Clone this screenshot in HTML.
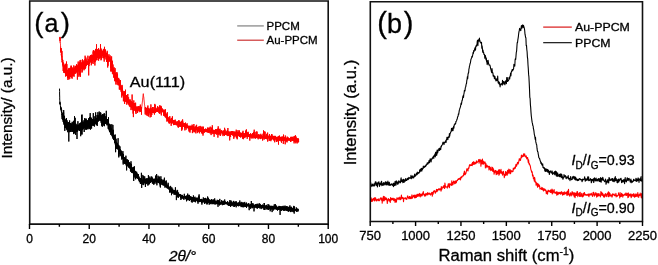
<!DOCTYPE html>
<html><head><meta charset="utf-8"><style>
html,body{margin:0;padding:0;background:#fff;overflow:hidden;}
svg{display:block;filter:blur(0.35px);}
text{font-family:"Liberation Sans",sans-serif;fill:#000;stroke:#000;stroke-width:0.3px;}
</style></head><body>
<svg width="658" height="265" viewBox="0 0 658 265">
<rect width="658" height="265" fill="#fff"/>
<polyline points="59.7,37.2 59.8,38.7 59.8,38.8 59.9,38.2 59.9,39.0 60.0,41.1 60.1,36.9 60.1,42.1 60.2,42.6 60.2,42.3 60.3,42.6 60.4,43.1 60.4,43.6 60.5,44.7 60.5,45.4 60.6,46.1 60.7,51.4 60.7,48.2 60.8,48.2 60.8,52.6 60.9,48.2 61.0,48.5 61.0,50.7 61.1,48.2 61.1,48.5 61.2,52.2 61.3,52.6 61.3,55.4 61.4,54.0 61.4,54.2 61.5,54.7 61.6,54.2 61.6,50.6 61.7,54.8 61.7,57.3 61.8,55.8 61.9,57.1 61.9,51.0 62.0,60.1 62.0,57.2 62.1,58.4 62.2,62.0 62.2,60.3 62.3,62.5 62.3,61.6 62.4,62.5 62.5,59.0 62.5,62.3 62.6,62.5 62.6,65.1 62.7,62.6 62.8,63.8 62.8,59.9 62.9,63.5 62.9,63.4 63.0,62.2 63.1,66.4 63.1,64.3 63.2,71.0 63.2,65.6 63.3,65.9 63.4,66.3 63.4,66.7 63.5,63.7 63.5,66.0 63.6,65.0 63.7,66.2 63.7,63.4 63.8,72.7 63.8,65.4 63.9,68.2 64.0,66.4 64.0,70.6 64.1,68.7 64.1,65.1 64.2,70.7 64.3,73.0 64.3,72.0 64.4,68.9 64.4,66.0 64.5,66.8 64.6,73.1 64.6,69.3 64.7,67.0 64.7,72.5 64.8,70.1 64.9,69.8 64.9,69.0 65.0,69.3 65.0,68.2 65.1,64.3 65.2,73.0 65.2,69.9 65.3,70.3 65.3,69.2 65.4,71.8 65.5,63.8 65.5,69.8 65.6,64.4 65.6,67.5 65.7,76.6 65.8,71.5 65.8,70.4 65.9,70.9 65.9,73.9 66.0,70.2 66.1,71.5 66.1,72.1 66.2,70.4 66.2,71.3 66.3,73.0 66.4,75.1 66.4,68.8 66.5,75.9 66.5,61.5 66.6,73.2 66.7,73.8 66.7,68.9 66.8,71.4 66.8,74.1 66.9,64.1 67.0,72.6 67.0,74.0 67.1,72.1 67.1,73.5 67.2,70.4 67.3,70.2 67.3,71.6 67.4,70.1 67.4,71.6 67.5,77.4 67.6,72.8 67.6,71.7 67.7,71.2 67.7,77.8 67.8,72.4 67.9,79.9 67.9,72.8 68.0,72.8 68.0,76.3 68.1,74.3 68.2,73.2 68.2,72.5 68.3,76.0 68.3,72.4 68.4,77.1 68.5,68.5 68.5,72.6 68.6,73.0 68.6,78.2 68.7,71.4 68.8,75.1 68.8,74.0 68.9,74.3 68.9,73.7 69.0,79.4 69.1,72.1 69.1,72.5 69.2,71.0 69.2,67.9 69.3,71.1 69.4,77.0 69.4,75.6 69.5,69.6 69.5,73.5 69.6,72.9 69.7,73.5 69.7,73.9 69.8,71.9 69.8,78.8 69.9,72.8 70.0,73.7 70.0,73.7 70.1,70.7 70.1,68.3 70.2,72.6 70.3,74.7 70.3,75.3 70.4,74.4 70.4,69.6 70.5,77.0 70.6,75.1 70.6,76.2 70.7,73.1 70.7,77.0 70.8,67.6 70.9,66.7 70.9,65.7 71.0,71.5 71.0,71.4 71.1,70.8 71.2,73.3 71.2,67.2 71.3,73.5 71.3,70.5 71.4,74.0 71.5,65.8 71.5,71.9 71.6,77.7 71.6,73.2 71.7,75.2 71.8,73.9 71.8,73.6 71.9,70.8 71.9,73.4 72.0,67.3 72.1,75.1 72.1,78.7 72.2,75.8 72.2,67.8 72.3,72.1 72.4,71.9 72.4,69.6 72.5,73.6 72.5,74.9 72.6,71.8 72.7,75.8 72.7,74.9 72.8,69.7 72.8,74.5 72.9,76.0 73.0,70.6 73.0,73.0 73.1,73.4 73.1,73.2 73.2,68.8 73.3,73.4 73.3,73.2 73.4,74.8 73.4,74.5 73.5,71.4 73.6,73.6 73.6,75.2 73.7,75.7 73.7,69.6 73.8,65.4 73.9,72.8 73.9,70.0 74.0,72.2 74.0,76.8 74.1,71.1 74.2,70.2 74.2,71.4 74.3,72.4 74.3,67.9 74.4,70.8 74.5,68.4 74.5,72.2 74.6,73.7 74.6,70.5 74.7,70.4 74.8,71.2 74.8,69.1 74.9,69.3 74.9,69.9 75.0,70.6 75.1,66.6 75.1,72.2 75.2,70.9 75.2,69.3 75.3,66.2 75.4,72.0 75.4,67.2 75.5,67.2 75.5,67.1 75.6,65.9 75.7,73.8 75.7,68.5 75.8,68.7 75.8,72.2 75.9,70.3 76.0,67.4 76.0,69.2 76.1,72.8 76.1,68.8 76.2,70.6 76.3,65.6 76.3,70.6 76.4,71.0 76.4,71.5 76.5,70.0 76.6,68.3 76.6,64.2 76.7,68.9 76.7,70.4 76.8,66.5 76.9,67.2 76.9,68.7 77.0,70.1 77.0,72.0 77.1,65.3 77.2,66.1 77.2,70.4 77.3,69.0 77.3,69.5 77.4,79.6 77.5,72.9 77.5,70.7 77.6,69.8 77.6,67.4 77.7,68.7 77.8,65.6 77.8,69.5 77.9,69.4 77.9,69.1 78.0,67.5 78.1,67.0 78.1,67.2 78.2,61.5 78.2,70.2 78.3,67.7 78.4,66.9 78.4,67.7 78.5,68.7 78.5,66.8 78.6,69.8 78.7,71.4 78.7,66.7 78.8,64.3 78.8,68.8 78.9,76.8 79.0,64.3 79.0,68.3 79.1,69.4 79.1,71.2 79.2,63.8 79.3,63.1 79.3,75.3 79.4,63.6 79.4,64.5 79.5,67.1 79.6,66.5 79.6,68.3 79.7,64.5 79.7,70.6 79.8,64.7 79.9,68.3 79.9,62.0 80.0,66.4 80.0,60.3 80.1,65.4 80.2,65.3 80.2,67.7 80.3,66.1 80.3,61.4 80.4,76.8 80.5,69.6 80.5,70.2 80.6,64.6 80.6,65.6 80.7,64.3 80.8,62.9 80.8,59.9 80.9,66.0 80.9,62.8 81.0,63.6 81.1,68.8 81.1,65.8 81.2,63.6 81.2,66.7 81.3,64.3 81.4,65.9 81.4,64.4 81.5,65.7 81.5,66.3 81.6,65.8 81.7,65.0 81.7,67.5 81.8,68.6 81.8,63.1 81.9,62.5 82.0,62.0 82.0,72.6 82.1,70.2 82.1,63.6 82.2,71.6 82.3,63.2 82.3,65.2 82.4,65.2 82.4,69.1 82.5,59.4 82.6,64.0 82.6,65.5 82.7,60.4 82.7,63.3 82.8,64.8 82.9,68.1 82.9,66.5 83.0,67.3 83.0,66.5 83.1,66.0 83.2,67.5 83.2,65.7 83.3,66.1 83.3,63.5 83.4,62.1 83.5,66.2 83.5,62.0 83.6,68.6 83.6,64.9 83.7,63.5 83.8,69.1 83.8,61.7 83.9,64.4 83.9,60.4 84.0,70.3 84.1,64.6 84.1,66.3 84.2,62.8 84.2,66.2 84.3,65.2 84.4,64.8 84.4,69.2 84.5,63.6 84.5,63.5 84.6,65.0 84.7,66.3 84.7,62.9 84.8,64.7 84.8,61.8 84.9,63.9 85.0,65.4 85.0,59.0 85.1,64.9 85.1,55.7 85.2,69.1 85.3,63.3 85.3,63.0 85.4,64.7 85.4,63.4 85.5,64.7 85.6,59.2 85.6,63.5 85.7,63.5 85.7,67.7 85.8,57.4 85.9,62.8 85.9,63.7 86.0,63.2 86.0,58.6 86.1,63.4 86.2,61.0 86.2,60.7 86.3,66.0 86.3,60.7 86.4,62.5 86.5,64.2 86.5,63.8 86.6,62.9 86.6,64.7 86.7,62.4 86.8,63.1 86.8,64.7 86.9,63.4 86.9,63.1 87.0,61.8 87.1,62.6 87.1,61.7 87.2,63.7 87.2,61.5 87.3,62.0 87.4,63.7 87.4,62.1 87.5,61.1 87.5,64.4 87.6,61.3 87.7,64.5 87.7,63.7 87.8,61.5 87.8,63.0 87.9,55.7 88.0,61.1 88.0,64.5 88.1,62.0 88.1,61.8 88.2,62.4 88.3,62.5 88.3,61.8 88.4,61.0 88.4,59.1 88.5,60.1 88.6,60.1 88.6,60.9 88.7,75.4 88.7,60.4 88.8,60.9 88.9,60.4 88.9,61.4 89.0,66.1 89.0,64.4 89.1,60.3 89.2,59.4 89.2,64.1 89.3,60.8 89.3,61.8 89.4,56.4 89.5,63.7 89.5,59.6 89.6,60.6 89.6,58.4 89.7,60.1 89.8,62.9 89.8,62.8 89.9,60.3 89.9,62.1 90.0,60.1 90.1,59.6 90.1,60.4 90.2,58.1 90.2,59.1 90.3,61.3 90.4,61.8 90.4,55.1 90.5,61.4 90.5,62.2 90.6,59.6 90.7,55.2 90.7,60.8 90.8,58.2 90.8,60.5 90.9,59.1 91.0,60.4 91.0,58.1 91.1,59.5 91.1,59.7 91.2,60.2 91.3,57.4 91.3,65.3 91.4,58.1 91.4,58.2 91.5,57.8 91.6,54.7 91.6,58.8 91.7,60.9 91.7,60.4 91.8,57.0 91.9,56.1 91.9,58.0 92.0,60.7 92.0,58.9 92.1,63.1 92.2,59.7 92.2,59.4 92.3,60.5 92.3,60.3 92.4,57.8 92.5,57.1 92.5,58.3 92.6,58.5 92.6,55.6 92.7,58.1 92.8,59.1 92.8,55.4 92.9,55.4 92.9,55.8 93.0,56.9 93.1,64.0 93.1,51.4 93.2,55.8 93.2,55.5 93.3,57.8 93.4,50.0 93.4,57.7 93.5,55.3 93.5,56.4 93.6,59.7 93.7,55.4 93.7,58.2 93.8,57.1 93.8,57.1 93.9,59.8 94.0,54.9 94.0,61.7 94.1,60.9 94.1,58.2 94.2,52.0 94.3,58.1 94.3,57.7 94.4,58.9 94.4,55.2 94.5,62.4 94.6,60.3 94.6,53.6 94.7,55.9 94.7,50.7 94.8,59.3 94.9,60.8 94.9,65.5 95.0,57.3 95.0,57.6 95.1,57.6 95.2,56.9 95.2,61.8 95.3,57.0 95.3,55.5 95.4,56.4 95.5,48.9 95.5,57.6 95.6,57.4 95.6,55.8 95.7,58.9 95.8,57.8 95.8,55.2 95.9,51.8 95.9,53.0 96.0,53.7 96.1,54.8 96.1,55.7 96.2,60.3 96.2,54.5 96.3,59.4 96.4,56.8 96.4,58.5 96.5,55.2 96.5,44.3 96.6,57.6 96.7,54.0 96.7,52.7 96.8,57.6 96.8,56.6 96.9,53.5 97.0,54.0 97.0,60.2 97.1,54.0 97.1,56.5 97.2,52.3 97.3,57.5 97.3,52.0 97.4,55.3 97.4,49.2 97.5,55.4 97.6,57.8 97.6,51.1 97.7,53.8 97.7,56.8 97.8,55.6 97.9,54.0 97.9,55.7 98.0,54.8 98.0,57.9 98.1,53.8 98.2,56.6 98.2,55.6 98.3,56.4 98.3,54.3 98.4,56.2 98.5,56.0 98.5,54.3 98.6,48.2 98.6,60.7 98.7,56.0 98.8,52.7 98.8,56.1 98.9,53.4 98.9,54.6 99.0,57.6 99.1,54.4 99.1,53.4 99.2,53.5 99.2,50.4 99.3,52.7 99.4,53.2 99.4,52.1 99.5,49.8 99.5,54.4 99.6,52.6 99.7,55.9 99.7,58.7 99.8,53.1 99.8,54.8 99.9,54.4 100.0,50.1 100.0,51.2 100.1,57.7 100.1,54.2 100.2,56.5 100.3,49.8 100.3,54.8 100.4,57.2 100.4,57.3 100.5,44.2 100.6,54.3 100.6,53.5 100.7,55.9 100.7,49.9 100.8,52.8 100.9,56.4 100.9,54.0 101.0,53.9 101.0,60.3 101.1,53.1 101.2,48.6 101.2,53.6 101.3,51.5 101.3,50.1 101.4,54.4 101.5,59.4 101.5,54.5 101.6,54.8 101.6,53.1 101.7,54.4 101.8,55.6 101.8,54.5 101.9,56.1 101.9,54.3 102.0,52.0 102.1,54.4 102.1,54.0 102.2,51.6 102.2,54.6 102.3,56.2 102.4,51.1 102.4,54.2 102.5,55.4 102.5,53.5 102.6,52.7 102.7,53.4 102.7,54.2 102.8,55.0 102.8,54.3 102.9,50.7 103.0,56.2 103.0,58.1 103.1,50.6 103.1,52.6 103.2,51.8 103.3,56.7 103.3,57.8 103.4,48.9 103.4,53.3 103.5,52.1 103.6,54.1 103.6,58.2 103.7,50.0 103.7,51.9 103.8,54.2 103.9,54.4 103.9,55.8 104.0,54.1 104.0,51.7 104.1,53.7 104.2,61.6 104.2,56.0 104.3,51.4 104.3,56.6 104.4,53.5 104.5,56.4 104.5,46.8 104.6,57.5 104.6,52.3 104.7,54.5 104.8,55.6 104.8,54.8 104.9,52.5 104.9,52.1 105.0,53.7 105.1,50.1 105.1,53.2 105.2,52.1 105.2,54.9 105.3,54.4 105.4,55.5 105.4,53.9 105.5,49.5 105.5,54.3 105.6,56.8 105.7,53.9 105.7,54.9 105.8,56.9 105.8,55.0 105.9,58.6 106.0,59.3 106.0,54.5 106.1,56.9 106.1,54.2 106.2,53.0 106.3,55.4 106.3,56.2 106.4,60.0 106.4,53.2 106.5,57.0 106.6,55.8 106.6,53.2 106.7,62.0 106.7,57.1 106.8,53.3 106.9,59.6 106.9,52.9 107.0,52.7 107.0,55.4 107.1,60.6 107.2,50.8 107.2,60.2 107.3,57.0 107.3,52.4 107.4,56.9 107.5,56.5 107.5,57.0 107.6,58.1 107.6,57.8 107.7,67.5 107.8,54.6 107.8,59.1 107.9,56.7 107.9,58.9 108.0,60.4 108.1,65.7 108.1,56.1 108.2,57.3 108.2,61.9 108.3,62.1 108.4,57.1 108.4,62.1 108.5,57.4 108.5,57.3 108.6,59.5 108.7,58.0 108.7,57.9 108.8,57.7 108.8,58.0 108.9,55.8 109.0,54.3 109.0,60.0 109.1,58.9 109.1,59.6 109.2,60.7 109.3,57.4 109.3,57.5 109.4,58.0 109.4,58.2 109.5,60.8 109.6,58.9 109.6,58.7 109.7,60.3 109.7,57.9 109.8,56.9 109.9,61.1 109.9,61.7 110.0,59.4 110.0,61.2 110.1,55.4 110.2,60.4 110.2,61.4 110.3,59.9 110.3,60.7 110.4,62.0 110.5,62.1 110.5,59.6 110.6,63.1 110.6,58.7 110.7,68.0 110.8,60.9 110.8,61.5 110.9,61.3 110.9,71.2 111.0,62.4 111.1,64.2 111.1,71.7 111.2,68.6 111.2,59.5 111.3,64.6 111.4,65.2 111.4,66.0 111.5,64.4 111.5,64.6 111.6,56.4 111.7,60.7 111.7,66.3 111.8,62.7 111.8,64.8 111.9,66.0 112.0,63.2 112.0,61.9 112.1,71.1 112.1,67.4 112.2,66.2 112.3,69.2 112.3,60.7 112.4,67.2 112.4,73.7 112.5,72.0 112.6,69.8 112.6,66.2 112.7,68.8 112.7,64.4 112.8,68.5 112.9,64.6 112.9,67.9 113.0,71.3 113.0,67.9 113.1,68.9 113.2,74.5 113.2,70.8 113.3,71.0 113.3,68.6 113.4,73.8 113.5,73.1 113.5,72.7 113.6,73.2 113.6,69.8 113.7,71.8 113.8,73.5 113.8,77.8 113.9,75.4 113.9,74.3 114.0,73.9 114.1,67.3 114.1,77.0 114.2,70.4 114.2,71.8 114.3,75.4 114.4,76.5 114.4,76.4 114.5,74.7 114.5,73.0 114.6,70.1 114.7,77.5 114.7,81.2 114.8,74.1 114.8,78.0 114.9,75.2 115.0,74.9 115.0,75.9 115.1,68.2 115.1,75.8 115.2,74.4 115.3,77.3 115.3,76.4 115.4,78.9 115.4,79.5 115.5,75.8 115.6,75.6 115.6,80.7 115.7,76.9 115.7,73.9 115.8,72.6 115.9,84.5 115.9,77.6 116.0,73.2 116.0,77.5 116.1,77.5 116.2,77.3 116.2,82.0 116.3,82.0 116.3,75.3 116.4,75.7 116.5,77.6 116.5,80.1 116.6,78.7 116.6,79.4 116.7,78.7 116.8,76.8 116.8,80.4 116.9,72.0 116.9,79.6 117.0,77.1 117.1,78.8 117.1,84.5 117.2,79.2 117.2,75.2 117.3,79.0 117.4,80.1 117.4,75.5 117.5,78.3 117.5,73.6 117.6,79.9 117.7,79.4 117.7,80.0 117.8,79.1 117.8,80.9 117.9,78.4 118.0,83.5 118.0,85.2 118.1,80.6 118.1,80.6 118.2,83.2 118.3,80.0 118.3,82.9 118.4,80.3 118.4,82.5 118.5,80.8 118.6,82.1 118.6,85.3 118.7,77.9 118.7,83.8 118.8,82.4 118.9,81.9 118.9,81.9 119.0,79.1 119.0,81.6 119.1,83.5 119.2,80.2 119.2,84.0 119.3,88.1 119.3,89.5 119.4,86.5 119.5,85.6 119.5,82.2 119.6,89.3 119.6,82.8 119.7,87.0 119.8,87.3 119.8,85.4 119.9,85.1 119.9,83.6 120.0,85.5 120.1,84.6 120.1,83.3 120.2,83.5 120.2,87.7 120.3,89.6 120.4,84.2 120.4,80.1 120.5,85.6 120.5,84.6 120.6,85.4 120.7,87.6 120.7,87.1 120.8,87.3 120.8,86.2 120.9,88.7 121.0,87.1 121.0,87.9 121.1,88.3 121.1,91.6 121.2,87.5 121.3,90.0 121.3,88.3 121.4,92.1 121.4,89.0 121.5,89.6 121.6,92.3 121.6,90.7 121.7,87.2 121.7,88.0 121.8,97.5 121.9,85.6 121.9,89.9 122.0,95.3 122.0,84.9 122.1,89.2 122.2,89.9 122.2,88.4 122.3,91.6 122.3,92.2 122.4,91.2 122.5,89.4 122.5,94.0 122.6,94.1 122.6,92.8 122.7,90.4 122.8,93.0 122.8,93.5 122.9,92.8 122.9,95.5 123.0,92.9 123.1,93.5 123.1,91.0 123.2,94.0 123.2,95.2 123.3,95.0 123.4,92.9 123.4,101.3 123.5,95.3 123.5,94.1 123.6,94.2 123.7,96.0 123.7,92.9 123.8,95.4 123.8,95.9 123.9,95.1 124.0,97.5 124.0,95.1 124.1,95.2 124.1,94.4 124.2,98.6 124.3,94.8 124.3,96.5 124.4,95.4 124.4,99.4 124.5,99.8 124.6,91.2 124.6,103.9 124.7,96.6 124.7,93.0 124.8,96.4 124.9,92.5 124.9,96.7 125.0,94.9 125.0,96.2 125.1,96.0 125.2,97.3 125.2,98.7 125.3,100.6 125.3,96.4 125.4,97.5 125.5,89.7 125.5,96.9 125.6,101.8 125.6,95.1 125.7,99.9 125.8,98.3 125.8,96.9 125.9,99.2 125.9,97.0 126.0,100.7 126.1,95.0 126.1,95.7 126.2,99.4 126.2,98.1 126.3,96.3 126.4,98.5 126.4,97.6 126.5,98.8 126.5,99.8 126.6,100.9 126.7,95.2 126.7,99.2 126.8,104.7 126.8,98.9 126.9,100.4 127.0,96.4 127.0,101.6 127.1,99.6 127.1,101.9 127.2,100.9 127.3,101.8 127.3,96.0 127.4,100.6 127.4,98.2 127.5,98.7 127.6,99.1 127.6,100.3 127.7,100.5 127.7,103.4 127.8,94.0 127.9,98.6 127.9,99.7 128.0,102.0 128.0,100.6 128.1,100.5 128.2,101.8 128.2,101.2 128.3,99.8 128.3,97.9 128.4,100.7 128.5,103.3 128.5,101.3 128.6,97.3 128.6,100.9 128.7,100.7 128.8,101.5 128.8,101.6 128.9,105.2 128.9,100.8 129.0,101.2 129.1,102.0 129.1,104.1 129.2,102.6 129.2,101.7 129.3,103.5 129.4,101.9 129.4,106.3 129.5,101.1 129.5,99.9 129.6,104.0 129.7,101.4 129.7,104.3 129.8,102.8 129.8,102.5 129.9,99.7 130.0,104.0 130.0,99.4 130.1,107.1 130.1,105.1 130.2,102.1 130.3,100.8 130.3,105.4 130.4,103.1 130.4,100.9 130.5,103.3 130.6,102.2 130.6,103.1 130.7,104.0 130.7,106.4 130.8,105.1 130.9,101.8 130.9,103.7 131.0,103.8 131.0,110.1 131.1,101.1 131.2,104.1 131.2,106.9 131.3,103.8 131.3,103.2 131.4,104.5 131.5,103.7 131.5,107.5 131.6,101.7 131.6,103.2 131.7,101.8 131.8,105.6 131.8,103.9 131.9,107.4 131.9,107.4 132.0,108.3 132.1,104.0 132.1,94.5 132.2,104.8 132.2,109.4 132.3,106.5 132.4,102.0 132.4,106.3 132.5,108.4 132.5,109.9 132.6,106.5 132.7,107.7 132.7,107.6 132.8,105.3 132.8,103.3 132.9,106.9 133.0,103.9 133.0,105.6 133.1,113.6 133.1,106.4 133.2,106.3 133.3,109.8 133.3,105.4 133.4,117.1 133.4,109.2 133.5,106.0 133.6,105.9 133.6,104.4 133.7,109.4 133.7,105.1 133.8,100.4 133.9,109.2 133.9,107.2 134.0,107.5 134.0,107.9 134.1,103.1 134.2,104.4 134.2,107.1 134.3,103.5 134.3,107.2 134.4,108.2 134.5,107.8 134.5,107.7 134.6,103.6 134.6,106.2 134.7,109.8 134.8,105.2 134.8,107.6 134.9,103.9 134.9,110.8 135.0,105.9 135.1,107.3 135.1,107.8 135.2,108.5 135.2,110.9 135.3,108.7 135.4,107.2 135.4,104.9 135.5,108.7 135.5,112.3 135.6,102.7 135.7,109.2 135.7,106.4 135.8,107.9 135.8,108.1 135.9,108.5 136.0,114.0 136.0,108.9 136.1,107.8 136.1,109.1 136.2,108.1 136.3,108.0 136.3,107.8 136.4,108.3 136.4,107.5 136.5,107.3 136.6,106.6 136.6,108.3 136.7,107.7 136.7,110.2 136.8,110.4 136.9,108.0 136.9,109.0 137.0,111.1 137.0,108.2 137.1,108.9 137.2,108.5 137.2,109.3 137.3,112.6 137.3,106.9 137.4,112.9 137.5,109.5 137.5,110.2 137.6,109.4 137.6,111.0 137.7,108.3 137.8,109.8 137.8,108.1 137.9,109.1 137.9,109.7 138.0,107.7 138.1,106.0 138.1,110.4 138.2,110.6 138.2,109.8 138.3,108.5 138.4,109.8 138.4,106.6 138.5,109.8 138.5,109.5 138.6,109.7 138.7,109.1 138.7,108.1 138.8,110.2 138.8,109.2 138.9,110.4 139.0,108.9 139.0,106.8 139.1,109.5 139.1,109.8 139.2,112.2 139.3,111.7 139.3,106.2 139.4,110.6 139.4,108.5 139.5,110.2 139.6,109.1 139.6,108.8 139.7,109.5 139.7,109.6 139.8,110.2 139.9,110.0 139.9,110.1 140.0,109.1 140.0,110.1 140.1,109.0 140.2,109.9 140.2,109.4 140.3,109.7 140.3,104.6 140.4,109.5 140.5,108.3 140.5,109.1 140.6,106.7 140.6,110.1 140.7,111.8 140.8,109.0 140.8,107.2 140.9,109.9 140.9,107.5 141.0,111.7 141.1,107.4 141.1,109.0 141.2,109.5 141.2,107.4 141.3,108.8 141.4,108.6 141.4,110.3 141.5,114.7 141.5,109.0 141.6,108.6 141.7,107.7 141.7,107.5 141.8,107.0 141.8,106.5 141.9,105.9 142.0,105.4 142.0,104.9 142.1,104.3 142.1,103.8 142.2,103.3 142.3,102.7 142.3,102.2 142.4,101.7 142.4,101.1 142.5,100.6 142.6,100.1 142.6,99.5 142.7,99.0 142.7,98.5 142.8,97.9 142.9,97.4 142.9,96.9 143.0,96.3 143.0,95.8 143.1,95.3 143.2,94.7 143.2,94.2 143.3,93.7 143.3,93.9 143.4,94.4 143.5,94.9 143.5,95.5 143.6,96.0 143.6,96.5 143.7,97.1 143.8,97.6 143.8,98.1 143.9,98.7 143.9,99.2 144.0,99.7 144.1,100.3 144.1,100.8 144.2,101.3 144.2,101.9 144.3,102.4 144.4,102.9 144.4,103.5 144.5,104.0 144.5,104.5 144.6,105.1 144.7,105.6 144.7,106.1 144.8,106.7 144.8,107.2 144.9,107.7 145.0,108.3 145.0,108.8 145.1,109.3 145.1,110.1 145.2,114.4 145.3,108.3 145.3,109.5 145.4,107.1 145.4,109.2 145.5,112.8 145.6,107.1 145.6,110.6 145.7,111.5 145.7,109.6 145.8,110.9 145.9,109.5 145.9,109.2 146.0,109.7 146.0,108.4 146.1,109.1 146.2,109.1 146.2,115.1 146.3,109.3 146.3,108.8 146.4,112.9 146.5,108.1 146.5,113.7 146.6,111.7 146.6,110.5 146.7,109.8 146.8,108.8 146.8,107.9 146.9,107.9 146.9,109.7 147.0,109.9 147.1,112.9 147.1,110.4 147.2,115.9 147.2,111.2 147.3,108.7 147.4,110.6 147.4,108.9 147.5,106.9 147.5,113.6 147.6,110.0 147.7,109.2 147.7,108.4 147.8,111.2 147.8,110.6 147.9,105.5 148.0,111.6 148.0,109.9 148.1,112.0 148.1,110.8 148.2,111.0 148.3,110.8 148.3,111.6 148.4,116.5 148.4,112.3 148.5,108.3 148.6,111.1 148.6,110.1 148.7,109.0 148.7,109.9 148.8,110.2 148.9,114.7 148.9,112.2 149.0,113.0 149.0,112.0 149.1,110.7 149.2,111.0 149.2,111.2 149.3,110.7 149.3,111.2 149.4,112.5 149.5,108.8 149.5,110.6 149.6,111.4 149.6,112.1 149.7,112.0 149.8,112.3 149.8,109.3 149.9,110.1 149.9,110.8 150.0,110.7 150.1,112.5 150.1,117.4 150.2,112.1 150.2,107.8 150.3,110.8 150.4,112.8 150.4,114.1 150.5,111.8 150.5,111.0 150.6,111.0 150.7,111.9 150.7,113.3 150.8,110.9 150.8,110.2 150.9,104.4 151.0,109.7 151.0,113.1 151.1,111.8 151.1,116.9 151.2,108.7 151.3,111.0 151.3,112.6 151.4,112.0 151.4,108.7 151.5,111.1 151.6,111.8 151.6,112.0 151.7,111.2 151.7,110.1 151.8,115.0 151.9,111.3 151.9,112.1 152.0,111.4 152.0,108.9 152.1,110.3 152.2,108.5 152.2,110.0 152.3,110.1 152.3,111.0 152.4,110.7 152.5,110.8 152.5,112.6 152.6,107.0 152.6,109.1 152.7,112.5 152.8,111.3 152.8,111.0 152.9,110.4 152.9,111.3 153.0,110.1 153.1,112.9 153.1,112.6 153.2,110.6 153.2,107.1 153.3,113.1 153.4,110.4 153.4,111.6 153.5,112.8 153.5,112.3 153.6,112.8 153.7,111.0 153.7,112.6 153.8,110.9 153.8,110.2 153.9,111.0 154.0,110.5 154.0,112.0 154.1,112.4 154.1,109.3 154.2,109.5 154.3,110.6 154.3,110.8 154.4,114.2 154.4,113.8 154.5,114.5 154.6,111.7 154.6,111.5 154.7,110.0 154.7,110.5 154.8,103.9 154.9,112.3 154.9,110.0 155.0,108.4 155.0,110.2 155.1,110.2 155.2,111.6 155.2,104.8 155.3,109.7 155.3,112.8 155.4,112.4 155.5,111.1 155.5,110.9 155.6,109.6 155.6,112.5 155.7,111.6 155.8,110.7 155.8,109.2 155.9,109.5 155.9,110.3 156.0,110.1 156.1,107.8 156.1,110.3 156.2,110.4 156.2,109.8 156.3,110.2 156.4,110.0 156.4,110.2 156.5,110.9 156.5,110.5 156.6,109.3 156.7,111.7 156.7,110.5 156.8,110.4 156.8,111.2 156.9,111.4 157.0,112.0 157.0,111.7 157.1,111.0 157.1,111.2 157.2,108.9 157.3,111.1 157.3,109.5 157.4,109.6 157.4,108.5 157.5,110.1 157.6,106.2 157.6,110.9 157.7,111.3 157.7,111.4 157.8,108.6 157.9,110.8 157.9,111.8 158.0,106.9 158.0,109.1 158.1,109.5 158.2,110.2 158.2,108.9 158.3,110.4 158.3,109.8 158.4,110.7 158.5,110.3 158.5,110.8 158.6,109.3 158.6,110.9 158.7,111.0 158.8,111.0 158.8,107.6 158.9,113.1 158.9,110.4 159.0,109.4 159.1,110.0 159.1,110.2 159.2,110.2 159.2,109.2 159.3,109.3 159.4,109.7 159.4,111.2 159.5,109.9 159.5,106.8 159.6,110.0 159.7,108.9 159.7,105.3 159.8,114.0 159.8,109.4 159.9,110.2 160.0,109.6 160.0,107.2 160.1,112.1 160.1,112.7 160.2,108.8 160.3,109.8 160.3,109.7 160.4,108.6 160.4,110.5 160.5,111.1 160.6,110.9 160.6,110.6 160.7,105.7 160.7,109.0 160.8,110.0 160.9,110.7 160.9,109.7 161.0,109.9 161.0,111.5 161.1,106.1 161.2,109.2 161.2,109.3 161.3,115.4 161.3,109.0 161.4,107.1 161.5,109.8 161.5,110.6 161.6,108.6 161.6,111.6 161.7,109.0 161.8,110.9 161.8,108.8 161.9,112.1 161.9,109.2 162.0,111.1 162.1,111.8 162.1,109.6 162.2,108.4 162.2,110.8 162.3,110.6 162.4,110.6 162.4,111.7 162.5,110.7 162.5,110.8 162.6,110.8 162.7,110.8 162.7,110.7 162.8,109.6 162.8,110.5 162.9,110.4 163.0,110.4 163.0,112.4 163.1,109.5 163.1,110.3 163.2,111.6 163.3,111.0 163.3,110.7 163.4,111.4 163.4,111.8 163.5,112.4 163.6,115.6 163.6,113.6 163.7,111.9 163.7,112.1 163.8,112.0 163.9,111.4 163.9,115.3 164.0,110.0 164.0,111.5 164.1,113.1 164.2,113.0 164.2,112.1 164.3,115.5 164.3,112.7 164.4,113.3 164.5,111.0 164.5,115.1 164.6,111.3 164.6,113.1 164.7,115.3 164.8,116.3 164.8,115.6 164.9,115.0 164.9,112.8 165.0,110.4 165.1,113.8 165.1,111.4 165.2,117.2 165.2,109.1 165.3,113.7 165.4,113.2 165.4,109.9 165.5,114.4 165.5,112.2 165.6,116.6 165.7,115.3 165.7,114.4 165.8,116.3 165.8,116.0 165.9,114.5 166.0,116.6 166.0,117.6 166.1,115.7 166.1,115.0 166.2,117.5 166.3,118.3 166.3,115.3 166.4,113.7 166.4,117.6 166.5,116.5 166.6,115.2 166.6,116.4 166.7,115.8 166.7,118.7 166.8,116.1 166.9,115.5 166.9,113.8 167.0,116.4 167.0,121.7 167.1,116.1 167.2,117.1 167.2,120.8 167.3,112.2 167.3,116.9 167.4,118.8 167.5,115.7 167.5,120.1 167.6,119.2 167.6,116.5 167.7,118.3 167.8,118.3 167.8,118.9 167.9,117.8 167.9,118.1 168.0,117.6 168.1,118.0 168.1,117.4 168.2,120.8 168.2,120.6 168.3,118.5 168.4,119.6 168.4,119.0 168.5,118.4 168.5,118.7 168.6,122.4 168.7,118.8 168.7,119.5 168.8,122.0 168.8,118.8 168.9,120.6 169.0,117.7 169.0,120.3 169.1,120.7 169.1,121.0 169.2,123.3 169.3,120.4 169.3,123.5 169.4,119.1 169.4,119.9 169.5,118.9 169.6,117.8 169.6,119.8 169.7,120.7 169.7,121.0 169.8,116.1 169.9,122.7 169.9,119.4 170.0,119.6 170.0,121.6 170.1,122.2 170.2,121.1 170.2,119.9 170.3,120.3 170.3,121.8 170.4,120.1 170.5,121.6 170.5,121.5 170.6,120.5 170.6,122.5 170.7,120.4 170.8,121.5 170.8,121.1 170.9,120.3 170.9,120.9 171.0,121.1 171.1,121.0 171.1,119.1 171.2,125.8 171.2,124.2 171.3,117.9 171.4,123.6 171.4,121.1 171.5,119.5 171.5,122.3 171.6,121.0 171.7,121.8 171.7,122.5 171.8,121.3 171.8,118.5 171.9,122.5 172.0,121.9 172.0,123.4 172.1,120.7 172.1,122.4 172.2,123.1 172.3,121.1 172.3,121.3 172.4,121.0 172.4,116.3 172.5,120.7 172.6,121.1 172.6,119.8 172.7,122.5 172.7,121.5 172.8,121.9 172.9,121.1 172.9,121.4 173.0,122.6 173.0,121.7 173.1,122.1 173.2,121.7 173.2,122.0 173.3,123.8 173.3,121.2 173.4,122.0 173.5,122.5 173.5,120.0 173.6,125.1 173.6,122.1 173.7,121.2 173.8,123.0 173.8,123.3 173.9,122.5 173.9,124.3 174.0,120.2 174.1,122.3 174.1,123.0 174.2,124.4 174.2,122.7 174.3,122.6 174.4,122.1 174.4,122.6 174.5,122.5 174.5,124.4 174.6,123.7 174.7,123.2 174.7,124.7 174.8,120.1 174.8,123.4 174.9,122.5 175.0,123.4 175.0,122.0 175.1,122.6 175.1,123.9 175.2,119.6 175.3,122.1 175.3,122.7 175.4,124.2 175.4,122.1 175.5,124.0 175.6,122.0 175.6,122.3 175.7,123.0 175.7,123.3 175.8,124.6 175.9,124.6 175.9,122.2 176.0,123.8 176.0,123.4 176.1,122.7 176.2,124.0 176.2,124.9 176.3,123.1 176.3,125.2 176.4,121.6 176.5,121.9 176.5,124.1 176.6,122.6 176.6,123.5 176.7,123.3 176.8,121.9 176.8,124.1 176.9,124.1 176.9,121.9 177.0,122.6 177.1,124.5 177.1,125.4 177.2,125.0 177.2,123.5 177.3,123.1 177.4,123.4 177.4,122.3 177.5,123.5 177.5,122.7 177.6,122.3 177.7,123.3 177.7,121.2 177.8,123.6 177.8,124.2 177.9,124.1 178.0,127.2 178.0,125.4 178.1,124.1 178.1,125.6 178.2,123.7 178.3,124.9 178.3,123.2 178.4,123.9 178.4,127.6 178.5,124.1 178.6,123.9 178.6,124.9 178.7,123.4 178.7,125.2 178.8,120.2 178.9,123.2 178.9,122.8 179.0,123.3 179.0,126.6 179.1,120.6 179.2,123.5 179.2,124.3 179.3,124.7 179.3,125.1 179.4,123.9 179.5,123.3 179.5,125.6 179.6,122.6 179.6,121.9 179.7,123.4 179.8,124.3 179.8,126.8 179.9,125.0 179.9,124.5 180.0,124.4 180.1,125.0 180.1,124.7 180.2,124.0 180.2,122.5 180.3,123.4 180.4,125.4 180.4,124.9 180.5,125.6 180.5,121.8 180.6,126.4 180.7,124.3 180.7,126.8 180.8,124.9 180.8,124.7 180.9,125.8 181.0,125.0 181.0,125.2 181.1,123.4 181.1,125.0 181.2,124.4 181.3,122.6 181.3,123.3 181.4,124.7 181.4,124.1 181.5,125.7 181.6,123.2 181.6,120.8 181.7,130.7 181.7,124.4 181.8,124.9 181.9,123.9 181.9,124.0 182.0,124.7 182.0,126.0 182.1,122.1 182.2,126.3 182.2,129.5 182.3,125.2 182.3,124.7 182.4,124.2 182.5,124.0 182.5,124.6 182.6,126.5 182.6,119.4 182.7,126.2 182.8,125.7 182.8,121.5 182.9,123.0 182.9,126.0 183.0,125.8 183.1,124.8 183.1,126.8 183.2,124.4 183.2,125.2 183.3,123.7 183.4,125.8 183.4,123.4 183.5,124.3 183.5,126.3 183.6,125.5 183.7,125.9 183.7,126.2 183.8,125.8 183.8,124.5 183.9,126.1 184.0,123.9 184.0,124.9 184.1,125.5 184.1,124.0 184.2,123.9 184.3,126.1 184.3,126.5 184.4,125.4 184.4,125.5 184.5,124.8 184.6,125.8 184.6,126.0 184.7,128.1 184.7,123.0 184.8,127.8 184.9,130.4 184.9,125.5 185.0,126.6 185.0,127.1 185.1,126.4 185.2,125.4 185.2,126.3 185.3,127.6 185.3,124.3 185.4,126.0 185.5,122.6 185.5,127.4 185.6,127.0 185.6,123.4 185.7,126.9 185.8,126.7 185.8,124.6 185.9,126.3 185.9,126.8 186.0,125.8 186.1,126.3 186.1,129.7 186.2,126.7 186.2,126.3 186.3,124.1 186.4,124.8 186.4,127.7 186.5,127.2 186.5,127.7 186.6,126.6 186.7,126.7 186.7,126.6 186.8,127.2 186.8,126.1 186.9,126.5 187.0,126.5 187.0,127.0 187.1,125.7 187.1,123.3 187.2,124.7 187.3,125.5 187.3,128.1 187.4,127.3 187.4,127.5 187.5,126.6 187.6,125.0 187.6,126.7 187.7,128.2 187.7,126.8 187.8,127.2 187.9,126.5 187.9,125.5 188.0,127.2 188.0,126.9 188.1,126.5 188.2,126.2 188.2,127.5 188.3,126.5 188.3,127.2 188.4,126.3 188.5,127.8 188.5,126.7 188.6,127.0 188.6,129.3 188.7,127.8 188.8,127.9 188.8,126.7 188.9,128.5 188.9,126.9 189.0,131.4 189.1,129.0 189.1,127.7 189.2,128.5 189.2,127.4 189.3,128.0 189.4,125.8 189.4,131.6 189.5,128.4 189.5,126.0 189.6,126.6 189.7,127.6 189.7,128.3 189.8,126.1 189.8,130.3 189.9,127.1 190.0,132.6 190.0,128.3 190.1,127.5 190.1,127.2 190.2,125.8 190.3,125.7 190.3,127.9 190.4,128.5 190.4,129.5 190.5,127.3 190.6,130.0 190.6,127.1 190.7,130.1 190.7,129.8 190.8,126.5 190.9,129.2 190.9,128.4 191.0,128.4 191.0,129.1 191.1,127.9 191.2,127.9 191.2,127.5 191.3,129.3 191.3,129.7 191.4,126.7 191.5,128.8 191.5,127.3 191.6,126.9 191.6,127.0 191.7,128.2 191.8,127.4 191.8,127.2 191.9,126.2 191.9,127.6 192.0,129.0 192.1,124.6 192.1,128.1 192.2,128.4 192.2,125.6 192.3,127.6 192.4,130.0 192.4,133.1 192.5,129.5 192.5,127.0 192.6,129.1 192.7,128.1 192.7,127.1 192.8,128.2 192.8,130.3 192.9,129.8 193.0,128.0 193.0,126.1 193.1,130.1 193.1,132.3 193.2,128.4 193.3,127.5 193.3,128.5 193.4,129.0 193.4,128.4 193.5,128.1 193.6,127.7 193.6,127.9 193.7,125.9 193.7,127.8 193.8,131.1 193.9,124.0 193.9,129.2 194.0,129.5 194.0,128.3 194.1,128.8 194.2,127.7 194.2,129.1 194.3,129.2 194.3,129.3 194.4,128.6 194.5,131.8 194.5,130.1 194.6,128.9 194.6,129.2 194.7,128.1 194.8,131.1 194.8,129.1 194.9,130.5 194.9,128.2 195.0,132.4 195.1,127.1 195.1,128.9 195.2,127.2 195.2,127.8 195.3,129.7 195.4,126.7 195.4,128.6 195.5,127.9 195.5,130.2 195.6,127.0 195.7,128.5 195.7,130.3 195.8,129.5 195.8,129.5 195.9,133.4 196.0,125.7 196.0,129.5 196.1,129.8 196.1,129.8 196.2,129.7 196.3,127.0 196.3,127.1 196.4,130.0 196.4,129.4 196.5,128.4 196.6,124.8 196.6,129.2 196.7,127.3 196.7,129.9 196.8,128.8 196.9,130.2 196.9,127.4 197.0,129.2 197.0,127.5 197.1,130.1 197.2,129.4 197.2,128.4 197.3,132.1 197.3,129.8 197.4,128.9 197.5,130.7 197.5,129.0 197.6,131.7 197.6,128.8 197.7,133.1 197.8,127.1 197.8,130.1 197.9,128.8 197.9,129.2 198.0,129.8 198.1,126.8 198.1,128.6 198.2,127.8 198.2,130.2 198.3,128.6 198.4,129.5 198.4,129.0 198.5,128.7 198.5,131.7 198.6,129.5 198.7,129.9 198.7,130.1 198.8,130.7 198.8,128.9 198.9,127.6 199.0,129.5 199.0,128.4 199.1,126.2 199.1,131.6 199.2,129.9 199.3,129.4 199.3,128.3 199.4,130.5 199.4,129.7 199.5,128.5 199.6,133.3 199.6,132.2 199.7,131.8 199.7,130.9 199.8,129.8 199.9,129.2 199.9,130.1 200.0,128.5 200.0,130.1 200.1,127.6 200.2,125.9 200.2,130.4 200.3,129.4 200.3,130.3 200.4,130.7 200.5,131.0 200.5,130.1 200.6,131.1 200.6,130.3 200.7,131.9 200.8,131.6 200.8,127.2 200.9,129.2 200.9,129.6 201.0,129.2 201.1,128.8 201.1,131.4 201.2,126.7 201.2,128.8 201.3,130.7 201.4,129.1 201.4,129.2 201.5,132.9 201.5,130.8 201.6,129.9 201.7,128.6 201.7,129.3 201.8,133.5 201.8,130.9 201.9,127.9 202.0,130.6 202.0,129.7 202.1,130.6 202.1,129.5 202.2,128.6 202.3,126.6 202.3,129.5 202.4,131.4 202.4,131.7 202.5,130.6 202.6,130.8 202.6,129.1 202.7,129.7 202.7,131.8 202.8,134.0 202.9,130.0 202.9,131.0 203.0,132.3 203.0,135.6 203.1,129.6 203.2,130.5 203.2,129.9 203.3,130.1 203.3,130.1 203.4,129.5 203.5,126.7 203.5,131.0 203.6,130.7 203.6,131.4 203.7,128.9 203.8,129.4 203.8,130.4 203.9,132.4 203.9,130.1 204.0,129.2 204.1,130.4 204.1,132.9 204.2,131.7 204.2,131.9 204.3,130.0 204.4,129.6 204.4,131.7 204.5,131.2 204.5,131.6 204.6,130.0 204.7,129.7 204.7,129.5 204.8,131.7 204.8,132.2 204.9,130.0 205.0,131.8 205.0,130.0 205.1,130.2 205.1,130.5 205.2,129.4 205.3,129.6 205.3,129.7 205.4,129.6 205.4,130.4 205.5,128.6 205.6,131.2 205.6,129.2 205.7,130.2 205.7,130.7 205.8,129.0 205.9,130.2 205.9,130.5 206.0,130.5 206.0,132.0 206.1,131.3 206.2,128.9 206.2,131.6 206.3,130.5 206.3,130.9 206.4,129.2 206.5,130.4 206.5,131.0 206.6,131.4 206.6,131.4 206.7,129.5 206.8,131.6 206.8,130.6 206.9,130.9 206.9,131.8 207.0,130.2 207.1,132.4 207.1,132.0 207.2,131.5 207.2,130.2 207.3,130.5 207.4,129.4 207.4,131.3 207.5,132.1 207.5,129.3 207.6,131.2 207.7,131.0 207.7,127.7 207.8,132.4 207.8,130.5 207.9,129.9 208.0,127.6 208.0,131.4 208.1,130.1 208.1,130.6 208.2,129.6 208.3,130.8 208.3,130.3 208.4,131.6 208.4,131.0 208.5,131.2 208.6,129.9 208.6,128.4 208.7,132.1 208.7,132.8 208.8,131.0 208.9,132.6 208.9,131.2 209.0,130.9 209.0,130.5 209.1,130.3 209.2,130.6 209.2,129.8 209.3,130.5 209.3,130.7 209.4,127.7 209.5,130.4 209.5,130.1 209.6,131.0 209.6,131.8 209.7,131.0 209.8,131.2 209.8,131.0 209.9,130.0 209.9,130.4 210.0,132.0 210.1,133.1 210.1,129.7 210.2,126.7 210.2,133.5 210.3,132.1 210.4,131.1 210.4,131.9 210.5,131.0 210.5,132.6 210.6,130.1 210.7,130.7 210.7,131.3 210.8,130.0 210.8,131.5 210.9,130.2 211.0,131.5 211.0,131.9 211.1,130.7 211.1,135.1 211.2,131.2 211.3,131.7 211.3,127.5 211.4,129.3 211.4,131.5 211.5,133.3 211.6,131.3 211.6,132.8 211.7,128.7 211.7,132.6 211.8,132.5 211.9,131.3 211.9,130.8 212.0,131.6 212.0,130.3 212.1,131.5 212.2,131.6 212.2,131.1 212.3,130.4 212.3,125.3 212.4,130.1 212.5,132.2 212.5,130.2 212.6,129.1 212.6,130.4 212.7,131.2 212.8,131.3 212.8,132.6 212.9,132.4 212.9,134.1 213.0,132.7 213.1,131.1 213.1,129.8 213.2,133.8 213.2,130.4 213.3,131.5 213.4,130.5 213.4,132.3 213.5,130.3 213.5,131.1 213.6,130.4 213.7,132.6 213.7,131.6 213.8,131.6 213.8,130.8 213.9,130.2 214.0,132.6 214.0,132.1 214.1,132.0 214.1,136.8 214.2,131.5 214.3,130.3 214.3,131.6 214.4,130.8 214.4,131.4 214.5,131.3 214.6,131.5 214.6,133.4 214.7,132.4 214.7,131.2 214.8,132.5 214.9,132.8 214.9,132.3 215.0,131.6 215.0,133.2 215.1,131.5 215.2,129.8 215.2,130.8 215.3,131.9 215.3,131.2 215.4,131.3 215.5,131.3 215.5,130.5 215.6,129.8 215.6,129.1 215.7,132.0 215.8,131.1 215.8,131.5 215.9,133.8 215.9,131.9 216.0,132.6 216.1,132.4 216.1,134.1 216.2,129.5 216.2,131.4 216.3,134.1 216.4,131.6 216.4,134.1 216.5,130.6 216.5,129.5 216.6,133.4 216.7,131.5 216.7,131.7 216.8,133.9 216.8,130.9 216.9,134.7 217.0,131.5 217.0,131.0 217.1,131.0 217.1,131.8 217.2,131.7 217.3,133.4 217.3,129.4 217.4,129.3 217.4,130.6 217.5,132.1 217.6,132.7 217.6,131.8 217.7,132.2 217.7,132.2 217.8,128.5 217.9,131.2 217.9,137.6 218.0,131.5 218.0,134.3 218.1,131.9 218.2,131.1 218.2,126.3 218.3,131.1 218.3,131.5 218.4,131.9 218.5,131.9 218.5,132.1 218.6,132.0 218.6,129.2 218.7,131.4 218.8,134.8 218.8,129.0 218.9,132.7 218.9,132.0 219.0,132.7 219.1,131.7 219.1,131.8 219.2,132.2 219.2,133.9 219.3,131.7 219.4,130.3 219.4,129.4 219.5,133.7 219.5,131.7 219.6,130.7 219.7,132.4 219.7,133.4 219.8,132.4 219.8,131.0 219.9,132.0 220.0,131.6 220.0,128.7 220.1,135.1 220.1,132.2 220.2,130.9 220.3,133.8 220.3,136.0 220.4,133.4 220.4,131.6 220.5,131.3 220.6,132.4 220.6,132.5 220.7,133.8 220.7,135.2 220.8,134.2 220.9,132.0 220.9,132.6 221.0,130.9 221.0,132.4 221.1,130.4 221.2,130.8 221.2,130.9 221.3,131.9 221.3,131.9 221.4,133.0 221.5,130.5 221.5,130.9 221.6,132.9 221.6,132.9 221.7,133.1 221.8,133.1 221.8,132.9 221.9,132.6 221.9,133.2 222.0,130.6 222.1,131.6 222.1,133.2 222.2,131.6 222.2,132.6 222.3,131.9 222.4,132.4 222.4,133.8 222.5,133.0 222.5,132.5 222.6,132.0 222.7,133.6 222.7,133.0 222.8,132.5 222.8,134.1 222.9,133.2 223.0,136.1 223.0,133.1 223.1,134.4 223.1,132.8 223.2,133.3 223.3,133.9 223.3,130.9 223.4,132.7 223.4,133.0 223.5,130.5 223.6,133.7 223.6,133.3 223.7,134.9 223.7,132.5 223.8,132.7 223.9,134.6 223.9,132.6 224.0,134.0 224.0,132.6 224.1,132.4 224.2,132.2 224.2,131.9 224.3,132.7 224.3,131.7 224.4,134.0 224.5,136.0 224.5,131.2 224.6,130.6 224.6,127.8 224.7,135.0 224.8,130.9 224.8,133.4 224.9,132.4 224.9,131.9 225.0,132.2 225.1,133.4 225.1,129.5 225.2,134.3 225.2,133.1 225.3,132.2 225.4,132.0 225.4,133.4 225.5,133.3 225.5,132.5 225.6,132.6 225.7,132.9 225.7,134.8 225.8,133.1 225.8,134.2 225.9,133.4 226.0,133.2 226.0,133.0 226.1,133.5 226.1,133.0 226.2,133.7 226.3,132.0 226.3,132.6 226.4,134.5 226.4,132.8 226.5,134.3 226.6,135.3 226.6,133.3 226.7,131.5 226.7,133.9 226.8,133.6 226.9,132.6 226.9,134.5 227.0,133.1 227.0,130.9 227.1,131.1 227.2,132.4 227.2,133.4 227.3,134.2 227.3,131.5 227.4,130.0 227.5,133.5 227.5,133.0 227.6,133.1 227.6,134.3 227.7,135.1 227.8,136.1 227.8,134.1 227.9,128.0 227.9,132.0 228.0,133.5 228.1,135.8 228.1,131.4 228.2,133.3 228.2,133.1 228.3,133.1 228.4,132.7 228.4,132.7 228.5,132.5 228.5,131.7 228.6,133.5 228.7,133.2 228.7,133.9 228.8,133.7 228.8,135.8 228.9,133.0 229.0,134.9 229.0,133.1 229.1,133.8 229.1,134.4 229.2,133.2 229.3,133.3 229.3,133.7 229.4,131.8 229.4,133.5 229.5,131.7 229.6,132.6 229.6,133.7 229.7,136.5 229.7,140.4 229.8,132.8 229.9,132.2 229.9,133.5 230.0,133.4 230.0,133.2 230.1,134.3 230.2,134.1 230.2,133.6 230.3,133.8 230.3,133.7 230.4,134.0 230.5,135.5 230.5,135.9 230.6,136.9 230.6,134.9 230.7,131.9 230.8,133.5 230.8,134.4 230.9,133.0 230.9,133.8 231.0,131.3 231.1,132.7 231.1,133.4 231.2,131.6 231.2,133.4 231.3,132.8 231.4,135.0 231.4,133.2 231.5,133.4 231.5,134.6 231.6,133.8 231.7,131.3 231.7,132.8 231.8,133.9 231.8,132.7 231.9,133.0 232.0,134.0 232.0,133.7 232.1,133.1 232.1,133.8 232.2,134.0 232.3,131.1 232.3,133.1 232.4,133.2 232.4,135.2 232.5,131.4 232.6,133.4 232.6,132.8 232.7,134.3 232.7,134.8 232.8,131.5 232.9,135.1 232.9,134.3 233.0,132.9 233.0,135.7 233.1,133.3 233.2,134.7 233.2,131.9 233.3,133.7 233.3,133.8 233.4,135.5 233.5,135.0 233.5,134.0 233.6,131.5 233.6,133.7 233.7,133.6 233.8,138.8 233.8,134.4 233.9,133.7 233.9,133.6 234.0,134.7 234.1,132.2 234.1,135.0 234.2,134.4 234.2,133.8 234.3,134.5 234.4,133.7 234.4,132.7 234.5,133.8 234.5,131.6 234.6,132.2 234.7,133.8 234.7,135.1 234.8,133.1 234.8,134.0 234.9,137.3 235.0,135.1 235.0,135.7 235.1,134.5 235.1,134.2 235.2,134.2 235.3,134.3 235.3,134.0 235.4,133.7 235.4,133.3 235.5,132.0 235.6,133.7 235.6,134.9 235.7,134.2 235.7,132.9 235.8,135.1 235.9,131.5 235.9,136.1 236.0,134.5 236.0,134.2 236.1,133.9 236.2,135.2 236.2,129.7 236.3,130.6 236.3,134.2 236.4,133.6 236.5,133.9 236.5,134.2 236.6,131.6 236.6,137.7 236.7,134.6 236.8,132.5 236.8,134.9 236.9,134.3 236.9,134.7 237.0,134.9 237.1,138.4 237.1,132.7 237.2,139.3 237.2,134.2 237.3,133.3 237.4,133.9 237.4,133.9 237.5,135.9 237.5,134.3 237.6,132.2 237.7,134.8 237.7,134.3 237.8,135.3 237.8,131.8 237.9,135.6 238.0,135.9 238.0,130.1 238.1,134.3 238.1,132.9 238.2,134.4 238.3,132.5 238.3,135.9 238.4,133.3 238.4,134.8 238.5,134.7 238.6,133.9 238.6,133.5 238.7,136.2 238.7,131.8 238.8,133.7 238.9,133.9 238.9,134.6 239.0,134.1 239.0,132.9 239.1,134.6 239.2,135.0 239.2,135.0 239.3,134.4 239.3,133.9 239.4,130.4 239.5,134.5 239.5,134.8 239.6,134.3 239.6,137.0 239.7,133.5 239.8,135.5 239.8,135.1 239.9,136.1 239.9,136.4 240.0,133.7 240.1,136.4 240.1,134.3 240.2,135.0 240.2,136.9 240.3,134.7 240.4,134.7 240.4,132.5 240.5,134.8 240.5,133.8 240.6,134.3 240.7,134.3 240.7,137.6 240.8,134.9 240.8,135.2 240.9,133.5 241.0,134.1 241.0,136.0 241.1,133.1 241.1,137.0 241.2,134.4 241.3,134.4 241.3,134.6 241.4,134.5 241.4,134.6 241.5,134.5 241.6,135.2 241.6,134.0 241.7,133.5 241.7,134.5 241.8,132.9 241.9,134.6 241.9,134.7 242.0,135.5 242.0,133.1 242.1,134.5 242.2,135.5 242.2,134.3 242.3,135.9 242.3,135.3 242.4,132.2 242.5,134.5 242.5,135.5 242.6,134.8 242.6,135.2 242.7,138.8 242.8,135.2 242.8,134.9 242.9,136.0 242.9,134.6 243.0,130.8 243.1,134.2 243.1,135.0 243.2,137.1 243.2,135.0 243.3,134.2 243.4,139.2 243.4,134.6 243.5,134.0 243.5,134.9 243.6,134.4 243.7,133.3 243.7,135.4 243.8,135.3 243.8,137.8 243.9,133.5 244.0,136.6 244.0,135.8 244.1,134.2 244.1,134.8 244.2,135.2 244.3,134.4 244.3,133.3 244.4,136.1 244.4,133.8 244.5,134.9 244.6,134.8 244.6,136.6 244.7,135.1 244.7,134.8 244.8,138.1 244.9,134.6 244.9,135.6 245.0,134.2 245.0,135.7 245.1,135.7 245.2,136.1 245.2,135.0 245.3,134.2 245.3,135.3 245.4,136.8 245.5,134.5 245.5,131.7 245.6,134.0 245.6,137.1 245.7,130.5 245.8,132.8 245.8,133.4 245.9,136.6 245.9,134.8 246.0,135.6 246.1,135.6 246.1,134.9 246.2,135.7 246.2,135.0 246.3,135.2 246.4,134.6 246.4,129.4 246.5,135.3 246.5,134.5 246.6,134.5 246.7,136.6 246.7,134.8 246.8,133.5 246.8,135.4 246.9,135.2 247.0,132.9 247.0,134.8 247.1,135.4 247.1,134.6 247.2,138.8 247.3,136.1 247.3,135.2 247.4,137.0 247.4,132.5 247.5,134.4 247.6,137.0 247.6,135.2 247.7,134.1 247.7,135.4 247.8,135.9 247.9,135.5 247.9,132.8 248.0,132.6 248.0,135.0 248.1,131.8 248.2,133.4 248.2,135.6 248.3,135.1 248.3,133.5 248.4,136.7 248.5,135.0 248.5,136.8 248.6,135.5 248.6,135.6 248.7,135.1 248.8,135.7 248.8,134.6 248.9,134.6 248.9,136.7 249.0,134.4 249.1,135.1 249.1,136.0 249.2,134.9 249.2,135.0 249.3,137.1 249.4,134.5 249.4,134.6 249.5,136.9 249.5,134.8 249.6,135.0 249.7,136.9 249.7,135.0 249.8,140.6 249.8,136.5 249.9,136.6 250.0,134.6 250.0,134.6 250.1,136.2 250.1,136.5 250.2,134.6 250.3,134.6 250.3,134.7 250.4,134.2 250.4,135.3 250.5,135.5 250.6,135.8 250.6,133.2 250.7,134.5 250.7,134.0 250.8,134.9 250.9,134.5 250.9,137.6 251.0,135.2 251.0,134.2 251.1,135.9 251.2,138.5 251.2,136.4 251.3,135.9 251.3,135.3 251.4,135.3 251.5,135.1 251.5,136.5 251.6,136.5 251.6,135.6 251.7,136.9 251.8,136.0 251.8,136.1 251.9,135.0 251.9,134.9 252.0,134.8 252.1,137.4 252.1,136.6 252.2,137.3 252.2,136.7 252.3,136.6 252.4,135.5 252.4,136.4 252.5,134.5 252.5,136.0 252.6,133.2 252.7,138.4 252.7,137.1 252.8,134.6 252.8,136.5 252.9,136.8 253.0,133.2 253.0,135.9 253.1,135.5 253.1,136.0 253.2,137.2 253.3,136.3 253.3,134.9 253.4,135.9 253.4,135.9 253.5,131.9 253.6,134.4 253.6,135.4 253.7,134.7 253.7,135.0 253.8,136.2 253.9,138.4 253.9,135.7 254.0,136.2 254.0,136.6 254.1,136.2 254.2,136.2 254.2,129.7 254.3,137.2 254.3,134.7 254.4,134.8 254.5,135.9 254.5,136.1 254.6,136.6 254.6,135.3 254.7,138.1 254.8,136.2 254.8,137.1 254.9,135.8 254.9,133.9 255.0,132.1 255.1,136.2 255.1,135.8 255.2,135.8 255.2,135.5 255.3,134.9 255.4,135.9 255.4,135.3 255.5,137.5 255.5,134.9 255.6,138.7 255.7,137.3 255.7,135.7 255.8,136.8 255.8,136.2 255.9,135.9 256.0,137.0 256.0,137.1 256.1,135.1 256.1,137.7 256.2,133.2 256.3,131.5 256.3,136.0 256.4,135.5 256.4,135.9 256.5,136.0 256.6,136.0 256.6,137.8 256.7,137.9 256.7,135.7 256.8,135.5 256.9,136.5 256.9,135.2 257.0,135.9 257.0,136.7 257.1,131.6 257.2,136.9 257.2,136.8 257.3,135.9 257.3,135.4 257.4,136.2 257.5,135.6 257.5,137.2 257.6,136.4 257.6,135.7 257.7,137.1 257.8,136.4 257.8,134.8 257.9,136.0 257.9,136.2 258.0,138.4 258.1,135.8 258.1,136.1 258.2,139.3 258.2,136.1 258.3,137.3 258.4,134.6 258.4,136.0 258.5,135.2 258.5,137.7 258.6,136.4 258.7,135.4 258.7,134.6 258.8,136.1 258.8,134.6 258.9,136.3 259.0,136.9 259.0,135.8 259.1,135.2 259.1,136.0 259.2,135.2 259.3,137.5 259.3,134.7 259.4,137.0 259.4,135.9 259.5,137.0 259.6,137.1 259.6,135.0 259.7,137.1 259.7,138.6 259.8,136.5 259.9,136.7 259.9,136.0 260.0,135.3 260.0,137.1 260.1,137.4 260.2,135.5 260.2,134.9 260.3,136.1 260.3,136.7 260.4,136.1 260.5,139.1 260.5,137.3 260.6,138.3 260.6,136.7 260.7,137.2 260.8,138.8 260.8,133.8 260.9,136.7 260.9,135.5 261.0,137.4 261.1,135.7 261.1,137.2 261.2,136.1 261.2,136.9 261.3,137.0 261.4,138.2 261.4,137.9 261.5,136.4 261.5,137.0 261.6,135.5 261.7,134.9 261.7,137.1 261.8,138.3 261.8,137.3 261.9,136.6 262.0,136.9 262.0,137.2 262.1,136.8 262.1,136.3 262.2,137.8 262.3,136.3 262.3,138.3 262.4,137.6 262.4,137.5 262.5,137.8 262.6,140.3 262.6,140.6 262.7,136.7 262.7,136.4 262.8,137.3 262.9,139.4 262.9,137.0 263.0,133.7 263.0,134.1 263.1,136.6 263.2,137.6 263.2,138.2 263.3,136.4 263.3,136.8 263.4,136.8 263.5,135.1 263.5,130.4 263.6,136.8 263.6,136.8 263.7,138.1 263.8,135.8 263.8,138.0 263.9,136.2 263.9,136.9 264.0,137.3 264.1,135.6 264.1,139.1 264.2,139.3 264.2,139.6 264.3,131.4 264.4,137.2 264.4,137.3 264.5,138.3 264.5,135.9 264.6,135.5 264.7,137.8 264.7,136.2 264.8,134.9 264.8,135.2 264.9,137.2 265.0,137.0 265.0,137.6 265.1,137.9 265.1,131.7 265.2,138.9 265.3,138.4 265.3,138.9 265.4,137.7 265.4,136.7 265.5,136.3 265.6,138.7 265.6,136.8 265.7,136.9 265.7,137.5 265.8,137.5 265.9,137.5 265.9,137.3 266.0,137.0 266.0,137.8 266.1,136.8 266.2,136.4 266.2,138.7 266.3,138.2 266.3,137.6 266.4,136.0 266.5,134.7 266.5,138.9 266.6,139.2 266.6,136.5 266.7,137.4 266.8,133.8 266.8,136.8 266.9,137.6 266.9,136.8 267.0,138.1 267.1,138.9 267.1,135.8 267.2,137.6 267.2,136.8 267.3,136.1 267.4,136.8 267.4,137.1 267.5,138.7 267.5,137.9 267.6,132.6 267.7,135.0 267.7,141.6 267.8,137.3 267.8,137.4 267.9,136.8 268.0,138.3 268.0,137.3 268.1,137.4 268.1,136.5 268.2,138.0 268.3,136.4 268.3,135.9 268.4,137.5 268.4,138.3 268.5,136.7 268.6,136.8 268.6,136.1 268.7,137.5 268.7,138.1 268.8,135.9 268.9,137.4 268.9,137.4 269.0,135.8 269.0,137.4 269.1,136.7 269.2,136.4 269.2,140.9 269.3,135.6 269.3,137.0 269.4,137.6 269.5,137.1 269.5,134.0 269.6,138.7 269.6,136.6 269.7,137.2 269.8,139.1 269.8,140.2 269.9,139.2 269.9,137.2 270.0,138.1 270.1,138.6 270.1,136.5 270.2,140.2 270.2,135.8 270.3,137.8 270.4,136.7 270.4,136.6 270.5,136.2 270.5,139.6 270.6,136.1 270.7,139.2 270.7,136.4 270.8,137.1 270.8,136.6 270.9,141.2 271.0,135.8 271.0,138.8 271.1,137.0 271.1,139.9 271.2,138.2 271.3,136.9 271.3,137.6 271.4,136.4 271.4,137.3 271.5,134.6 271.6,138.0 271.6,137.8 271.7,137.0 271.7,134.0 271.8,139.7 271.9,136.2 271.9,137.2 272.0,134.6 272.0,137.3 272.1,137.4 272.2,137.7 272.2,137.2 272.3,136.9 272.3,138.5 272.4,137.1 272.5,137.2 272.5,137.6 272.6,137.1 272.6,138.3 272.7,135.9 272.8,137.2 272.8,137.5 272.9,137.0 272.9,138.8 273.0,137.4 273.1,137.5 273.1,137.7 273.2,138.8 273.2,136.9 273.3,138.8 273.4,140.0 273.4,137.1 273.5,136.7 273.5,138.6 273.6,137.3 273.7,137.0 273.7,135.9 273.8,138.0 273.8,139.8 273.9,139.2 274.0,138.0 274.0,137.7 274.1,140.8 274.1,138.2 274.2,140.2 274.3,138.3 274.3,138.3 274.4,138.4 274.4,136.5 274.5,137.2 274.6,135.9 274.6,139.9 274.7,142.3 274.7,138.1 274.8,136.7 274.9,136.5 274.9,137.8 275.0,137.7 275.0,137.0 275.1,136.2 275.2,138.3 275.2,138.8 275.3,135.9 275.3,137.5 275.4,137.4 275.5,138.0 275.5,138.2 275.6,137.8 275.6,139.3 275.7,137.7 275.8,137.5 275.8,138.7 275.9,139.1 275.9,139.4 276.0,136.9 276.1,137.1 276.1,137.9 276.2,140.7 276.2,138.3 276.3,138.3 276.4,137.6 276.4,142.0 276.5,137.1 276.5,138.2 276.6,138.5 276.7,139.0 276.7,139.1 276.8,137.8 276.8,137.5 276.9,141.3 277.0,138.2 277.0,137.5 277.1,136.8 277.1,139.0 277.2,139.3 277.3,138.3 277.3,137.9 277.4,138.5 277.4,141.3 277.5,138.3 277.6,139.0 277.6,139.6 277.7,138.9 277.7,138.2 277.8,137.2 277.9,138.7 277.9,139.3 278.0,140.8 278.0,137.0 278.1,136.8 278.2,138.5 278.2,139.3 278.3,136.4 278.3,138.5 278.4,137.6 278.5,144.6 278.5,137.9 278.6,136.5 278.6,139.1 278.7,137.8 278.8,138.1 278.8,137.0 278.9,137.9 278.9,137.0 279.0,137.7 279.1,138.5 279.1,137.8 279.2,138.7 279.2,139.9 279.3,138.5 279.4,135.5 279.4,140.8 279.5,137.4 279.5,138.0 279.6,138.4 279.7,138.6 279.7,138.0 279.8,138.3 279.8,138.7 279.9,138.3 280.0,137.8 280.0,138.2 280.1,138.2 280.1,137.9 280.2,138.7 280.3,138.5 280.3,138.3 280.4,139.0 280.4,139.4 280.5,138.8 280.6,138.1 280.6,140.5 280.7,136.9 280.7,139.4 280.8,138.3 280.9,138.3 280.9,139.6 281.0,138.9 281.0,141.4 281.1,139.9 281.2,137.1 281.2,138.5 281.3,139.3 281.3,136.8 281.4,138.6 281.5,142.7 281.5,137.8 281.6,137.1 281.6,138.0 281.7,138.2 281.8,138.0 281.8,138.5 281.9,139.7 281.9,138.6 282.0,138.8 282.1,137.1 282.1,136.6 282.2,140.9 282.2,138.3 282.3,140.9 282.4,138.3 282.4,139.0 282.5,139.0 282.5,137.0 282.6,136.8 282.7,138.6 282.7,137.3 282.8,138.2 282.8,137.8 282.9,138.2 283.0,138.6 283.0,138.3 283.1,138.3 283.1,138.7 283.2,139.2 283.3,136.3 283.3,143.9 283.4,138.6 283.4,140.6 283.5,134.6 283.6,136.7 283.6,137.2 283.7,140.5 283.7,138.6 283.8,140.0 283.9,139.3 283.9,137.1 284.0,138.5 284.0,138.4 284.1,138.7 284.2,139.5 284.2,137.1 284.3,140.7 284.3,138.8 284.4,138.5 284.5,139.4 284.5,138.3 284.6,139.4 284.6,138.7 284.7,138.8 284.8,137.9 284.8,138.0 284.9,140.2 284.9,139.1 285.0,138.8 285.1,139.7 285.1,140.6 285.2,137.8 285.2,144.3 285.3,135.5 285.4,139.2 285.4,138.3 285.5,138.3 285.5,139.0 285.6,139.2 285.7,138.9 285.7,139.5 285.8,141.3 285.8,137.9 285.9,138.3 286.0,139.3 286.0,138.8 286.1,138.6 286.1,139.0 286.2,139.5 286.3,140.7 286.3,141.1 286.4,140.1 286.4,138.7 286.5,140.5 286.6,139.6 286.6,138.1 286.7,141.4 286.7,138.4 286.8,139.5 286.9,139.6 286.9,140.8 287.0,139.5 287.0,142.4 287.1,137.1 287.2,136.6 287.2,138.2 287.3,139.3 287.3,139.0 287.4,137.4 287.5,138.3 287.5,139.3 287.6,139.0 287.6,139.9 287.7,139.1 287.8,140.6 287.8,139.9 287.9,139.2 287.9,138.9 288.0,138.4 288.1,138.7 288.1,138.9 288.2,138.9 288.2,138.2 288.3,139.2 288.4,137.8 288.4,140.6 288.5,139.4 288.5,137.7 288.6,138.9 288.7,138.6 288.7,138.2 288.8,139.3 288.8,138.3 288.9,138.1 289.0,139.8 289.0,139.2 289.1,139.7 289.1,139.3 289.2,139.3 289.3,138.9 289.3,139.2 289.4,139.3 289.4,139.0 289.5,140.4 289.6,138.7 289.6,138.6 289.7,139.0 289.7,140.2 289.8,140.6 289.9,139.5 289.9,139.1 290.0,139.8 290.0,140.5 290.1,138.7 290.2,139.8 290.2,140.0 290.3,139.2 290.3,138.2 290.4,139.7 290.5,138.6 290.5,139.2 290.6,139.6 290.6,142.0 290.7,138.3 290.8,137.6 290.8,139.6 290.9,141.6 290.9,137.2 291.0,139.8 291.1,136.7 291.1,139.6 291.2,138.1 291.2,139.9 291.3,139.2 291.4,139.9 291.4,138.9 291.5,137.7 291.5,138.6 291.6,139.0 291.7,138.5 291.7,138.7 291.8,139.7 291.8,139.5 291.9,140.6 292.0,139.6 292.0,139.7 292.1,140.2 292.1,140.8 292.2,139.8 292.3,137.1 292.3,139.6 292.4,137.0 292.4,139.9 292.5,137.7 292.6,139.8 292.6,138.5 292.7,140.9 292.7,138.1 292.8,140.1 292.9,140.2 292.9,139.1 293.0,139.9 293.0,139.3 293.1,139.1 293.2,139.1 293.2,136.4 293.3,140.2 293.3,137.9 293.4,138.9 293.5,138.1 293.5,140.7 293.6,139.8 293.6,139.7 293.7,140.0 293.8,140.7 293.8,140.1 293.9,139.8 293.9,139.4 294.0,139.9 294.1,143.4 294.1,140.0 294.2,139.8 294.2,141.3 294.3,137.7 294.4,137.9 294.4,140.7 294.5,142.0 294.5,137.7 294.6,136.9 294.7,136.1 294.7,140.1 294.8,138.7 294.8,140.0 294.9,140.3 295.0,136.6 295.0,141.2 295.1,139.3 295.1,140.1 295.2,139.6 295.3,139.6 295.3,139.8 295.4,135.2 295.4,139.8 295.5,139.4 295.6,139.7 295.6,138.9 295.7,139.6 295.7,140.5 295.8,143.3 295.9,139.1 295.9,141.3 296.0,140.3 296.0,138.5 296.1,136.6 296.2,141.5 296.2,139.3 296.3,138.6 296.3,140.4 296.4,140.6 296.5,141.6 296.5,140.1 296.6,139.6 296.6,139.7 296.7,139.2 296.8,140.4 296.8,142.2 296.9,138.4 296.9,139.9 297.0,139.8 297.1,138.4 297.1,140.3 297.2,143.4 297.2,139.6 297.3,140.7 297.4,141.7 297.4,139.6 297.5,141.9 297.5,140.8 297.6,140.5 297.7,139.3 297.7,139.6 297.8,138.7 297.8,141.7 297.9,141.1 298.0,138.5 298.0,140.3 298.1,139.4 298.1,141.0 298.2,140.4 298.3,142.4 298.3,140.8 298.4,138.7 298.4,140.0 298.5,140.4 298.6,142.0 298.6,140.0 298.7,139.4" fill="none" stroke="#ff0000" stroke-width="1" stroke-linejoin="round"/>
<polyline points="59.5,88.6 59.6,91.4 59.6,94.0 59.7,97.1 59.7,99.0 59.8,100.8 59.9,102.7 59.9,104.0 60.0,101.9 60.0,103.5 60.1,104.2 60.2,103.4 60.2,104.9 60.3,104.4 60.3,105.3 60.4,105.5 60.5,107.2 60.5,105.8 60.6,106.9 60.6,107.3 60.7,106.9 60.8,109.6 60.8,107.4 60.9,107.6 60.9,108.8 61.0,108.5 61.1,109.4 61.1,107.6 61.2,107.8 61.2,110.4 61.3,109.6 61.4,111.8 61.4,109.6 61.5,109.9 61.5,112.9 61.6,111.1 61.7,109.8 61.7,111.1 61.8,113.6 61.8,112.0 61.9,113.4 62.0,115.1 62.0,114.2 62.1,115.2 62.1,119.1 62.2,114.0 62.3,117.3 62.3,115.5 62.4,114.2 62.4,113.8 62.5,115.5 62.6,114.3 62.6,118.1 62.7,117.2 62.7,113.0 62.8,119.9 62.9,118.0 62.9,117.7 63.0,115.8 63.0,118.2 63.1,121.8 63.2,119.0 63.2,118.7 63.3,119.5 63.3,119.5 63.4,120.0 63.5,117.8 63.5,117.4 63.6,112.6 63.6,122.4 63.7,110.1 63.8,119.2 63.8,121.2 63.9,121.0 63.9,124.6 64.0,119.5 64.1,118.3 64.1,119.2 64.2,121.8 64.2,120.9 64.3,122.0 64.4,123.4 64.4,121.6 64.5,123.5 64.5,115.8 64.6,123.2 64.7,126.8 64.7,127.7 64.8,123.8 64.8,130.9 64.9,122.1 65.0,122.7 65.0,123.8 65.1,124.2 65.1,126.5 65.2,124.1 65.3,119.4 65.3,125.7 65.4,123.0 65.4,128.0 65.5,123.1 65.6,123.9 65.6,122.3 65.7,124.2 65.7,125.8 65.8,124.1 65.9,120.4 65.9,126.0 66.0,127.1 66.0,122.4 66.1,125.5 66.2,121.5 66.2,118.5 66.3,125.4 66.3,124.8 66.4,129.1 66.5,118.2 66.5,126.9 66.6,127.6 66.6,125.9 66.7,126.3 66.8,124.8 66.8,124.9 66.9,121.5 66.9,130.2 67.0,120.2 67.1,123.7 67.1,127.9 67.2,126.5 67.2,126.8 67.3,125.6 67.4,124.3 67.4,128.9 67.5,123.8 67.5,125.8 67.6,128.5 67.7,125.9 67.7,132.2 67.8,124.8 67.8,127.3 67.9,127.4 68.0,127.2 68.0,129.0 68.1,122.0 68.1,127.5 68.2,129.3 68.3,122.3 68.3,127.7 68.4,127.2 68.4,127.0 68.5,127.7 68.6,128.2 68.6,128.8 68.7,131.2 68.7,128.5 68.8,141.5 68.9,128.7 68.9,126.4 69.0,125.1 69.0,123.5 69.1,126.5 69.2,124.7 69.2,129.0 69.3,129.1 69.3,128.6 69.4,127.4 69.5,127.9 69.5,126.6 69.6,132.2 69.6,120.4 69.7,127.2 69.8,128.6 69.8,125.9 69.9,131.1 69.9,128.2 70.0,127.6 70.1,123.7 70.1,127.1 70.2,128.8 70.2,127.1 70.3,123.0 70.4,128.9 70.4,127.4 70.5,131.2 70.5,129.6 70.6,129.9 70.7,132.0 70.7,130.8 70.8,127.7 70.8,129.0 70.9,127.2 71.0,126.6 71.0,126.7 71.1,125.3 71.1,127.1 71.2,126.9 71.3,129.7 71.3,127.2 71.4,123.4 71.4,128.4 71.5,126.8 71.6,129.9 71.6,127.0 71.7,129.1 71.7,126.5 71.8,128.8 71.9,131.9 71.9,127.8 72.0,129.0 72.0,128.6 72.1,124.5 72.2,121.8 72.2,131.5 72.3,128.1 72.3,130.0 72.4,128.5 72.5,131.5 72.5,126.9 72.6,128.9 72.6,129.2 72.7,131.0 72.8,122.6 72.8,128.3 72.9,128.9 72.9,129.4 73.0,126.2 73.1,129.2 73.1,130.1 73.2,130.4 73.2,127.2 73.3,128.7 73.4,127.8 73.4,128.4 73.5,128.3 73.5,134.0 73.6,120.8 73.7,134.1 73.7,122.9 73.8,124.8 73.8,127.0 73.9,127.7 74.0,131.8 74.0,131.5 74.1,133.5 74.1,128.4 74.2,121.2 74.3,129.6 74.3,132.5 74.4,125.4 74.4,131.3 74.5,116.2 74.6,130.2 74.6,128.8 74.7,132.6 74.7,131.9 74.8,123.5 74.9,128.8 74.9,127.1 75.0,128.5 75.0,124.2 75.1,128.0 75.2,128.2 75.2,117.8 75.3,128.6 75.3,132.1 75.4,123.9 75.5,133.6 75.5,128.6 75.6,126.6 75.6,134.8 75.7,128.4 75.8,128.2 75.8,127.9 75.9,131.7 75.9,125.5 76.0,126.5 76.1,127.2 76.1,123.8 76.2,131.0 76.2,128.3 76.3,128.9 76.4,131.6 76.4,128.3 76.5,127.0 76.5,128.4 76.6,128.2 76.7,127.1 76.7,126.5 76.8,127.4 76.8,129.6 76.9,125.7 77.0,139.0 77.0,126.4 77.1,126.7 77.1,124.9 77.2,127.5 77.3,127.3 77.3,129.0 77.4,131.5 77.4,126.4 77.5,130.1 77.6,126.8 77.6,127.4 77.7,124.8 77.7,131.2 77.8,127.1 77.9,128.9 77.9,121.2 78.0,128.8 78.0,125.9 78.1,127.4 78.2,128.6 78.2,125.2 78.3,127.7 78.3,130.1 78.4,125.1 78.5,127.4 78.5,125.3 78.6,124.7 78.6,127.4 78.7,127.2 78.8,128.2 78.8,130.2 78.9,128.6 78.9,126.5 79.0,127.3 79.1,128.2 79.1,129.8 79.2,128.3 79.2,127.2 79.3,124.3 79.4,130.2 79.4,125.9 79.5,126.7 79.5,130.4 79.6,125.1 79.7,131.0 79.7,125.3 79.8,123.2 79.8,127.1 79.9,129.0 80.0,126.5 80.0,129.5 80.1,126.4 80.1,129.1 80.2,123.6 80.3,125.6 80.3,123.7 80.4,128.3 80.4,126.7 80.5,127.6 80.6,125.1 80.6,128.2 80.7,136.2 80.7,122.6 80.8,125.7 80.9,129.7 80.9,129.4 81.0,129.7 81.0,124.9 81.1,126.9 81.2,122.7 81.2,126.2 81.3,126.9 81.3,125.1 81.4,126.1 81.5,125.8 81.5,122.5 81.6,122.0 81.6,128.3 81.7,115.0 81.8,134.3 81.8,129.9 81.9,134.5 81.9,128.2 82.0,114.5 82.1,123.0 82.1,125.3 82.2,124.0 82.2,121.5 82.3,130.2 82.4,130.0 82.4,127.8 82.5,124.6 82.5,128.8 82.6,128.3 82.7,125.1 82.7,123.0 82.8,123.1 82.8,125.6 82.9,128.4 83.0,121.8 83.0,125.6 83.1,125.2 83.1,129.3 83.2,123.3 83.3,126.7 83.3,124.9 83.4,126.6 83.4,128.1 83.5,128.1 83.6,128.3 83.6,124.5 83.7,124.4 83.7,122.6 83.8,124.2 83.9,122.5 83.9,127.5 84.0,120.4 84.0,123.4 84.1,127.5 84.2,127.2 84.2,132.0 84.3,124.9 84.3,120.1 84.4,127.5 84.5,124.2 84.5,127.1 84.6,118.2 84.6,119.5 84.7,125.8 84.8,126.3 84.8,125.6 84.9,125.4 84.9,125.7 85.0,122.2 85.1,120.6 85.1,124.4 85.2,125.3 85.2,123.6 85.3,122.8 85.4,124.8 85.4,124.6 85.5,123.6 85.5,129.2 85.6,129.7 85.7,119.7 85.7,124.8 85.8,123.2 85.8,124.0 85.9,118.5 86.0,120.8 86.0,118.8 86.1,121.7 86.1,125.5 86.2,120.6 86.3,127.9 86.3,126.7 86.4,123.3 86.4,125.7 86.5,129.7 86.6,121.3 86.6,124.8 86.7,124.4 86.7,123.4 86.8,123.2 86.9,120.6 86.9,125.2 87.0,122.3 87.0,124.0 87.1,128.6 87.2,123.5 87.2,123.3 87.3,128.6 87.3,124.6 87.4,124.5 87.5,122.4 87.5,124.9 87.6,123.5 87.6,124.3 87.7,123.5 87.8,120.0 87.8,127.1 87.9,125.0 87.9,129.4 88.0,122.8 88.1,122.6 88.1,121.0 88.2,122.7 88.2,122.8 88.3,121.6 88.4,122.3 88.4,122.5 88.5,126.4 88.5,123.4 88.6,125.8 88.7,118.5 88.7,121.4 88.8,128.7 88.8,118.4 88.9,119.1 89.0,123.5 89.0,122.2 89.1,121.3 89.1,123.8 89.2,123.8 89.3,121.1 89.3,123.4 89.4,123.0 89.4,125.7 89.5,118.8 89.6,121.4 89.6,123.4 89.7,117.1 89.7,125.6 89.8,129.0 89.9,122.0 89.9,124.6 90.0,121.3 90.0,127.8 90.1,120.9 90.2,113.1 90.2,118.4 90.3,122.5 90.3,117.0 90.4,129.7 90.5,123.3 90.5,122.9 90.6,123.2 90.6,122.1 90.7,125.7 90.8,123.6 90.8,122.1 90.9,121.1 90.9,119.6 91.0,121.3 91.1,121.5 91.1,118.2 91.2,126.3 91.2,120.7 91.3,122.3 91.4,117.7 91.4,122.3 91.5,122.8 91.5,118.0 91.6,128.6 91.7,119.5 91.7,120.5 91.8,123.3 91.8,121.0 91.9,124.9 92.0,120.2 92.0,120.7 92.1,122.8 92.1,124.5 92.2,124.8 92.3,120.4 92.3,121.7 92.4,121.1 92.4,122.5 92.5,119.8 92.6,123.9 92.6,122.6 92.7,119.1 92.7,120.4 92.8,120.5 92.9,125.6 92.9,121.1 93.0,121.8 93.0,125.5 93.1,120.7 93.2,126.0 93.2,120.0 93.3,113.1 93.3,117.6 93.4,122.1 93.5,120.4 93.5,123.4 93.6,121.1 93.6,121.9 93.7,120.1 93.8,121.3 93.8,121.9 93.9,120.2 93.9,120.7 94.0,123.3 94.1,125.0 94.1,119.9 94.2,116.3 94.2,123.1 94.3,120.3 94.4,126.6 94.4,122.1 94.5,119.8 94.5,123.1 94.6,120.6 94.7,121.6 94.7,123.5 94.8,120.7 94.8,125.2 94.9,119.8 95.0,119.6 95.0,120.9 95.1,119.7 95.1,121.3 95.2,120.2 95.3,121.5 95.3,122.3 95.4,120.3 95.4,123.8 95.5,121.7 95.6,122.6 95.6,112.8 95.7,112.3 95.7,120.4 95.8,118.8 95.9,122.7 95.9,119.1 96.0,121.1 96.0,118.0 96.1,120.2 96.2,123.0 96.2,122.3 96.3,118.8 96.3,119.3 96.4,119.5 96.5,118.5 96.5,119.2 96.6,125.0 96.6,122.3 96.7,118.2 96.8,120.2 96.8,124.1 96.9,118.4 96.9,121.7 97.0,121.0 97.1,122.2 97.1,115.1 97.2,123.0 97.2,126.0 97.3,117.3 97.4,119.5 97.4,115.1 97.5,119.3 97.5,119.9 97.6,120.2 97.7,121.4 97.7,117.5 97.8,115.5 97.8,120.8 97.9,112.2 98.0,116.9 98.0,116.9 98.1,120.2 98.1,118.2 98.2,120.9 98.3,119.3 98.3,120.9 98.4,120.2 98.4,121.5 98.5,117.1 98.6,117.6 98.6,119.0 98.7,118.7 98.7,120.0 98.8,120.3 98.9,117.2 98.9,115.2 99.0,119.6 99.0,119.2 99.1,116.9 99.2,113.5 99.2,111.5 99.3,116.6 99.3,116.8 99.4,116.2 99.5,113.2 99.5,115.8 99.6,117.3 99.6,114.4 99.7,116.1 99.8,117.8 99.8,120.6 99.9,120.9 99.9,117.6 100.0,115.0 100.1,116.7 100.1,118.9 100.2,117.6 100.2,118.3 100.3,119.4 100.4,118.8 100.4,120.7 100.5,114.2 100.5,116.9 100.6,112.3 100.7,118.1 100.7,118.6 100.8,116.6 100.8,113.3 100.9,117.9 101.0,115.7 101.0,116.0 101.1,117.5 101.1,122.7 101.2,117.4 101.3,119.2 101.3,117.5 101.4,117.6 101.4,115.4 101.5,116.0 101.6,119.8 101.6,117.8 101.7,117.0 101.7,125.8 101.8,121.1 101.9,116.8 101.9,117.9 102.0,118.5 102.0,115.9 102.1,117.9 102.2,117.1 102.2,120.3 102.3,114.8 102.3,126.8 102.4,116.8 102.5,117.5 102.5,114.4 102.6,122.0 102.6,120.6 102.7,114.3 102.8,118.6 102.8,117.9 102.9,119.0 102.9,117.7 103.0,123.5 103.1,116.8 103.1,120.7 103.2,117.3 103.2,119.3 103.3,118.3 103.4,118.8 103.4,118.8 103.5,119.3 103.5,114.6 103.6,114.4 103.7,124.6 103.7,117.4 103.8,118.1 103.8,117.4 103.9,119.6 104.0,125.9 104.0,118.5 104.1,118.1 104.1,118.3 104.2,113.1 104.3,115.6 104.3,114.3 104.4,118.2 104.4,126.2 104.5,116.6 104.6,119.4 104.6,117.5 104.7,114.0 104.7,121.6 104.8,116.6 104.9,116.7 104.9,121.4 105.0,118.0 105.0,117.6 105.1,123.8 105.2,117.6 105.2,121.7 105.3,118.6 105.3,119.9 105.4,118.7 105.5,118.9 105.5,123.7 105.6,123.1 105.6,117.7 105.7,121.0 105.8,117.3 105.8,118.9 105.9,116.1 105.9,120.7 106.0,121.2 106.1,121.4 106.1,121.7 106.2,119.7 106.2,118.1 106.3,110.8 106.4,120.0 106.4,124.3 106.5,120.2 106.5,121.0 106.6,124.0 106.7,123.1 106.7,121.9 106.8,121.1 106.8,119.3 106.9,122.2 107.0,120.6 107.0,122.1 107.1,119.6 107.1,125.4 107.2,119.1 107.3,123.1 107.3,124.4 107.4,119.3 107.4,124.2 107.5,122.4 107.6,122.3 107.6,120.7 107.7,121.3 107.7,120.7 107.8,122.1 107.9,123.1 107.9,123.7 108.0,123.7 108.0,122.1 108.1,122.1 108.2,124.5 108.2,128.8 108.3,121.7 108.3,123.0 108.4,122.4 108.5,129.3 108.5,117.3 108.6,126.8 108.6,125.5 108.7,123.4 108.8,125.2 108.8,123.9 108.9,125.2 108.9,124.4 109.0,128.2 109.1,124.8 109.1,127.0 109.2,125.6 109.2,124.9 109.3,130.7 109.4,123.9 109.4,129.1 109.5,132.2 109.5,128.4 109.6,126.8 109.7,127.0 109.7,130.2 109.8,126.5 109.8,128.9 109.9,128.5 110.0,129.6 110.0,127.1 110.1,128.2 110.1,124.5 110.2,124.2 110.3,125.1 110.3,129.3 110.4,127.6 110.4,131.5 110.5,125.1 110.6,126.7 110.6,130.9 110.7,128.7 110.7,127.6 110.8,130.8 110.9,128.0 110.9,135.0 111.0,128.6 111.0,132.2 111.1,129.9 111.2,133.9 111.2,129.3 111.3,133.9 111.3,129.7 111.4,130.5 111.5,131.4 111.5,131.2 111.6,131.9 111.6,132.2 111.7,130.3 111.8,124.2 111.8,132.8 111.9,132.3 111.9,132.3 112.0,132.2 112.1,135.8 112.1,131.5 112.2,135.8 112.2,130.8 112.3,133.8 112.4,137.0 112.4,131.1 112.5,134.8 112.5,132.5 112.6,129.9 112.7,133.6 112.7,135.0 112.8,133.2 112.8,138.6 112.9,124.9 113.0,133.6 113.0,134.2 113.1,134.5 113.1,134.3 113.2,129.8 113.3,134.0 113.3,134.6 113.4,136.6 113.4,135.6 113.5,137.3 113.6,136.2 113.6,135.9 113.7,134.7 113.7,135.5 113.8,139.9 113.9,137.0 113.9,136.5 114.0,136.0 114.0,140.1 114.1,138.7 114.2,138.8 114.2,139.8 114.3,137.0 114.3,139.5 114.4,135.1 114.5,139.4 114.5,138.1 114.6,139.7 114.6,137.7 114.7,138.7 114.8,140.1 114.8,143.3 114.9,139.0 114.9,137.9 115.0,137.5 115.1,140.9 115.1,143.0 115.2,134.5 115.2,139.9 115.3,138.8 115.4,145.1 115.4,138.6 115.5,137.6 115.5,142.6 115.6,152.2 115.7,142.9 115.7,139.1 115.8,141.5 115.8,142.0 115.9,144.9 116.0,143.5 116.0,138.7 116.1,142.3 116.1,144.1 116.2,143.0 116.3,143.6 116.3,147.8 116.4,148.7 116.4,145.3 116.5,143.8 116.6,142.8 116.6,141.8 116.7,142.0 116.7,144.6 116.8,145.5 116.9,146.5 116.9,147.5 117.0,143.6 117.0,144.0 117.1,143.2 117.2,145.1 117.2,149.0 117.3,146.5 117.3,145.1 117.4,143.5 117.5,147.6 117.5,148.5 117.6,147.2 117.6,145.1 117.7,145.7 117.8,146.6 117.8,149.5 117.9,145.3 117.9,146.4 118.0,143.2 118.1,138.2 118.1,145.8 118.2,148.9 118.2,148.1 118.3,147.4 118.4,147.3 118.4,146.6 118.5,149.1 118.5,147.9 118.6,144.8 118.7,148.7 118.7,155.7 118.8,145.2 118.8,157.4 118.9,146.0 119.0,148.0 119.0,154.2 119.1,154.0 119.1,147.5 119.2,150.3 119.3,149.9 119.3,149.2 119.4,151.2 119.4,150.4 119.5,148.6 119.6,150.1 119.6,151.1 119.7,150.8 119.7,150.6 119.8,151.7 119.9,148.5 119.9,146.7 120.0,146.4 120.0,151.5 120.1,151.0 120.2,153.2 120.2,156.2 120.3,149.1 120.3,151.2 120.4,151.5 120.5,152.1 120.5,154.9 120.6,152.5 120.6,151.5 120.7,153.1 120.8,151.8 120.8,152.8 120.9,150.1 120.9,153.1 121.0,152.9 121.1,153.7 121.1,153.5 121.2,153.6 121.2,154.6 121.3,151.4 121.4,154.9 121.4,154.3 121.5,154.8 121.5,153.7 121.6,151.3 121.7,157.4 121.7,156.2 121.8,159.6 121.8,154.5 121.9,157.2 122.0,157.2 122.0,155.2 122.1,157.8 122.1,156.9 122.2,152.8 122.3,153.3 122.3,155.3 122.4,155.8 122.4,156.4 122.5,156.2 122.6,158.4 122.6,157.7 122.7,153.7 122.7,155.8 122.8,159.0 122.9,157.8 122.9,151.1 123.0,157.3 123.0,154.7 123.1,157.1 123.2,164.5 123.2,154.2 123.3,159.1 123.3,157.5 123.4,162.8 123.5,159.8 123.5,154.6 123.6,158.5 123.6,160.2 123.7,157.2 123.8,159.2 123.8,157.3 123.9,157.1 123.9,158.0 124.0,157.9 124.1,163.0 124.1,157.7 124.2,158.8 124.2,159.1 124.3,160.0 124.4,163.9 124.4,159.9 124.5,161.6 124.5,157.5 124.6,160.4 124.7,158.1 124.7,162.1 124.8,160.4 124.8,158.1 124.9,162.2 125.0,160.4 125.0,160.4 125.1,157.6 125.1,163.3 125.2,160.8 125.3,162.9 125.3,157.9 125.4,161.7 125.4,160.7 125.5,161.3 125.6,161.7 125.6,163.1 125.7,164.4 125.7,159.8 125.8,163.7 125.9,159.4 125.9,155.7 126.0,161.1 126.0,161.1 126.1,163.3 126.2,162.4 126.2,161.9 126.3,163.7 126.3,165.7 126.4,163.0 126.5,163.2 126.5,164.7 126.6,161.9 126.6,170.4 126.7,161.3 126.8,159.2 126.8,164.7 126.9,161.5 126.9,162.6 127.0,163.4 127.1,161.0 127.1,163.2 127.2,163.0 127.2,160.9 127.3,164.1 127.4,163.6 127.4,162.1 127.5,165.3 127.5,163.7 127.6,159.5 127.7,166.4 127.7,163.9 127.8,161.7 127.8,163.5 127.9,163.4 128.0,160.7 128.0,164.0 128.1,163.0 128.1,163.4 128.2,165.5 128.3,163.1 128.3,160.1 128.4,163.4 128.4,164.3 128.5,163.5 128.6,165.6 128.6,167.5 128.7,167.1 128.7,165.4 128.8,166.8 128.9,166.9 128.9,166.2 129.0,167.2 129.0,165.4 129.1,166.9 129.2,166.0 129.2,167.0 129.3,167.1 129.3,163.1 129.4,167.9 129.5,162.3 129.5,166.1 129.6,166.8 129.6,168.1 129.7,163.3 129.8,167.3 129.8,166.2 129.9,163.0 129.9,166.2 130.0,167.4 130.1,164.3 130.1,168.9 130.2,163.4 130.2,166.1 130.3,166.7 130.4,164.3 130.4,170.3 130.5,171.6 130.5,170.1 130.6,166.3 130.7,169.4 130.7,167.2 130.8,167.0 130.8,168.7 130.9,165.4 131.0,161.3 131.0,171.1 131.1,167.7 131.1,169.6 131.2,168.1 131.3,165.9 131.3,168.4 131.4,167.0 131.4,165.9 131.5,163.9 131.6,168.5 131.6,167.9 131.7,168.4 131.7,172.9 131.8,170.7 131.9,170.0 131.9,168.2 132.0,170.4 132.0,170.2 132.1,169.6 132.2,168.5 132.2,168.3 132.3,169.5 132.3,168.9 132.4,172.0 132.5,169.8 132.5,170.7 132.6,172.4 132.6,170.6 132.7,168.6 132.8,169.7 132.8,173.2 132.9,167.0 132.9,169.4 133.0,171.0 133.1,172.5 133.1,172.3 133.2,171.8 133.2,171.7 133.3,170.6 133.4,168.0 133.4,171.6 133.5,168.4 133.5,172.6 133.6,169.4 133.7,167.1 133.7,181.0 133.8,170.0 133.8,172.0 133.9,168.7 134.0,176.6 134.0,167.0 134.1,172.7 134.1,173.8 134.2,171.4 134.3,166.2 134.3,168.5 134.4,169.3 134.4,173.5 134.5,172.6 134.6,174.9 134.6,173.1 134.7,173.0 134.7,171.5 134.8,171.7 134.9,177.5 134.9,176.4 135.0,172.9 135.0,174.5 135.1,174.1 135.2,172.5 135.2,172.1 135.3,174.5 135.3,177.3 135.4,178.5 135.5,173.2 135.5,170.9 135.6,173.2 135.6,171.1 135.7,179.3 135.8,173.4 135.8,175.8 135.9,173.2 135.9,177.9 136.0,174.3 136.1,176.0 136.1,174.8 136.2,175.6 136.2,171.9 136.3,172.2 136.4,174.3 136.4,176.8 136.5,177.3 136.5,175.7 136.6,175.4 136.7,171.8 136.7,177.9 136.8,175.8 136.8,175.7 136.9,177.0 137.0,174.4 137.0,175.9 137.1,176.2 137.1,176.7 137.2,173.4 137.3,176.7 137.3,178.2 137.4,176.4 137.4,174.5 137.5,178.6 137.6,174.0 137.6,175.2 137.7,178.1 137.7,176.7 137.8,175.9 137.9,177.9 137.9,177.1 138.0,174.7 138.0,175.7 138.1,178.2 138.2,178.3 138.2,174.4 138.3,177.2 138.3,178.0 138.4,176.7 138.5,174.5 138.5,177.2 138.6,180.4 138.6,178.5 138.7,176.5 138.8,179.4 138.8,178.4 138.9,177.2 138.9,177.2 139.0,176.7 139.1,177.9 139.1,177.8 139.2,177.6 139.2,180.3 139.3,179.5 139.4,178.6 139.4,182.2 139.5,179.4 139.5,182.0 139.6,180.4 139.7,179.4 139.7,179.8 139.8,180.2 139.8,180.2 139.9,181.2 140.0,178.9 140.0,179.0 140.1,178.6 140.1,182.1 140.2,181.9 140.3,179.6 140.3,179.5 140.4,178.1 140.4,184.0 140.5,180.6 140.6,183.6 140.6,180.6 140.7,180.2 140.7,181.2 140.8,182.3 140.9,182.0 140.9,179.9 141.0,180.5 141.0,183.5 141.1,180.6 141.2,181.9 141.2,180.8 141.3,182.2 141.3,178.1 141.4,172.8 141.5,178.6 141.5,180.7 141.6,180.6 141.6,184.4 141.7,187.9 141.8,179.3 141.8,182.6 141.9,181.2 141.9,182.7 142.0,180.8 142.1,182.3 142.1,174.9 142.2,181.2 142.2,180.7 142.3,180.4 142.4,180.6 142.4,181.1 142.5,181.3 142.5,181.4 142.6,182.1 142.7,182.7 142.7,184.7 142.8,181.8 142.8,180.4 142.9,181.5 143.0,181.1 143.0,180.3 143.1,180.8 143.1,180.3 143.2,181.4 143.3,178.6 143.3,181.4 143.4,181.0 143.4,175.6 143.5,180.5 143.6,185.1 143.6,181.5 143.7,178.6 143.7,181.5 143.8,182.0 143.9,179.6 143.9,181.0 144.0,180.2 144.0,181.4 144.1,182.7 144.2,180.3 144.2,179.6 144.3,179.6 144.3,181.6 144.4,178.7 144.5,181.4 144.5,182.6 144.6,182.3 144.6,181.8 144.7,176.3 144.8,181.1 144.8,180.3 144.9,181.3 144.9,179.7 145.0,179.6 145.1,184.3 145.1,183.2 145.2,179.1 145.2,182.7 145.3,178.6 145.4,180.8 145.4,187.0 145.5,184.1 145.5,181.2 145.6,181.9 145.7,180.9 145.7,182.8 145.8,180.7 145.8,180.1 145.9,179.6 146.0,181.7 146.0,181.4 146.1,183.4 146.1,179.7 146.2,182.5 146.3,184.1 146.3,182.1 146.4,179.3 146.4,179.7 146.5,179.0 146.6,180.7 146.6,182.2 146.7,179.6 146.7,181.1 146.8,178.1 146.9,181.8 146.9,179.1 147.0,182.4 147.0,181.6 147.1,180.0 147.2,181.9 147.2,180.8 147.3,181.3 147.3,181.4 147.4,180.4 147.5,181.0 147.5,182.3 147.6,182.9 147.6,182.8 147.7,181.4 147.8,183.0 147.8,179.6 147.9,185.6 147.9,178.1 148.0,183.3 148.1,182.3 148.1,180.9 148.2,182.3 148.2,184.4 148.3,179.8 148.4,181.7 148.4,175.2 148.5,181.7 148.5,178.5 148.6,181.7 148.7,177.5 148.7,180.9 148.8,182.9 148.8,180.6 148.9,184.7 149.0,181.1 149.0,179.9 149.1,183.8 149.1,179.7 149.2,181.4 149.3,183.9 149.3,183.8 149.4,181.3 149.4,180.0 149.5,181.1 149.6,180.4 149.6,180.5 149.7,180.5 149.7,179.9 149.8,177.9 149.9,182.0 149.9,176.5 150.0,181.3 150.0,180.7 150.1,181.5 150.2,181.3 150.2,181.0 150.3,182.1 150.3,181.2 150.4,183.0 150.5,181.2 150.5,182.8 150.6,182.6 150.6,181.7 150.7,180.4 150.8,180.9 150.8,178.6 150.9,181.7 150.9,181.4 151.0,182.2 151.1,178.7 151.1,179.2 151.2,181.3 151.2,181.7 151.3,178.5 151.4,177.4 151.4,180.3 151.5,180.4 151.5,178.0 151.6,178.8 151.7,179.7 151.7,176.4 151.8,179.3 151.8,177.1 151.9,180.4 152.0,181.6 152.0,181.3 152.1,181.1 152.1,180.7 152.2,179.5 152.3,177.8 152.3,179.5 152.4,183.5 152.4,181.9 152.5,180.9 152.6,181.0 152.6,181.5 152.7,182.0 152.7,179.8 152.8,181.8 152.9,181.1 152.9,179.9 153.0,180.0 153.0,179.3 153.1,180.7 153.2,184.0 153.2,181.7 153.3,179.2 153.3,178.8 153.4,179.9 153.5,179.2 153.5,179.0 153.6,181.3 153.6,180.0 153.7,180.7 153.8,180.0 153.8,184.8 153.9,180.8 153.9,178.9 154.0,181.5 154.1,179.8 154.1,180.4 154.2,179.8 154.2,180.5 154.3,179.9 154.4,179.9 154.4,179.1 154.5,183.5 154.5,179.4 154.6,179.8 154.7,180.2 154.7,178.7 154.8,179.5 154.8,180.2 154.9,180.7 155.0,180.5 155.0,180.1 155.1,180.9 155.1,181.2 155.2,179.6 155.3,179.5 155.3,180.8 155.4,180.2 155.4,181.7 155.5,175.6 155.6,180.5 155.6,180.0 155.7,179.4 155.7,182.0 155.8,179.4 155.9,181.4 155.9,181.9 156.0,183.7 156.0,178.6 156.1,179.0 156.2,178.3 156.2,179.9 156.3,182.4 156.3,180.8 156.4,179.0 156.5,178.5 156.5,181.2 156.6,180.8 156.6,174.0 156.7,180.7 156.8,179.3 156.8,179.8 156.9,178.5 156.9,185.3 157.0,180.3 157.1,180.8 157.1,179.4 157.2,180.1 157.2,180.9 157.3,181.3 157.4,182.5 157.4,179.6 157.5,179.6 157.5,180.2 157.6,179.9 157.7,181.7 157.7,180.1 157.8,180.2 157.8,180.5 157.9,180.7 158.0,180.1 158.0,175.7 158.1,181.3 158.1,178.8 158.2,182.0 158.3,179.7 158.3,179.8 158.4,180.6 158.4,182.6 158.5,180.3 158.6,180.5 158.6,180.4 158.7,178.8 158.7,180.0 158.8,182.7 158.9,183.1 158.9,179.8 159.0,182.8 159.0,176.6 159.1,181.3 159.2,177.2 159.2,180.5 159.3,180.5 159.3,180.5 159.4,183.2 159.5,180.3 159.5,176.8 159.6,179.0 159.6,181.6 159.7,179.2 159.8,178.3 159.8,179.7 159.9,184.4 159.9,180.7 160.0,179.4 160.1,181.3 160.1,180.5 160.2,181.0 160.2,186.5 160.3,181.5 160.4,181.0 160.4,187.5 160.5,180.9 160.5,180.8 160.6,182.3 160.7,183.8 160.7,181.6 160.8,180.6 160.8,180.7 160.9,176.3 161.0,180.1 161.0,181.9 161.1,181.0 161.1,182.5 161.2,181.5 161.3,181.2 161.3,182.2 161.4,181.1 161.4,181.6 161.5,181.1 161.6,180.8 161.6,182.1 161.7,179.0 161.7,184.8 161.8,184.3 161.9,182.6 161.9,181.3 162.0,181.3 162.0,181.2 162.1,181.4 162.2,180.6 162.2,182.6 162.3,183.3 162.3,181.7 162.4,183.1 162.5,181.2 162.5,183.3 162.6,185.2 162.6,182.4 162.7,184.9 162.8,182.7 162.8,182.6 162.9,182.1 162.9,179.8 163.0,180.7 163.1,183.5 163.1,181.2 163.2,182.9 163.2,181.2 163.3,183.3 163.4,185.3 163.4,182.9 163.5,179.8 163.5,183.5 163.6,182.8 163.7,184.4 163.7,181.6 163.8,182.3 163.8,185.1 163.9,184.4 164.0,185.1 164.0,183.3 164.1,183.8 164.1,185.6 164.2,183.9 164.3,181.5 164.3,182.2 164.4,177.7 164.4,182.0 164.5,180.4 164.6,183.5 164.6,184.1 164.7,185.3 164.7,183.7 164.8,182.8 164.9,186.0 164.9,186.2 165.0,187.7 165.0,180.8 165.1,184.5 165.2,184.7 165.2,184.5 165.3,183.4 165.3,186.6 165.4,184.7 165.5,181.7 165.5,184.3 165.6,185.4 165.6,183.8 165.7,185.8 165.8,184.0 165.8,184.8 165.9,184.5 165.9,183.6 166.0,186.8 166.1,184.8 166.1,186.1 166.2,187.1 166.2,184.8 166.3,180.5 166.4,185.6 166.4,184.8 166.5,187.2 166.5,184.5 166.6,186.4 166.7,182.6 166.7,185.2 166.8,185.0 166.8,187.4 166.9,186.4 167.0,186.6 167.0,184.3 167.1,185.8 167.1,188.1 167.2,186.7 167.3,187.3 167.3,186.6 167.4,185.7 167.4,188.6 167.5,186.1 167.6,185.7 167.6,187.3 167.7,185.0 167.7,187.9 167.8,187.7 167.9,186.9 167.9,187.3 168.0,187.3 168.0,185.3 168.1,185.4 168.2,187.1 168.2,182.8 168.3,186.5 168.3,187.4 168.4,188.1 168.5,187.9 168.5,186.7 168.6,188.7 168.6,189.0 168.7,188.5 168.8,188.6 168.8,187.5 168.9,189.5 168.9,188.5 169.0,187.3 169.1,188.9 169.1,188.8 169.2,188.7 169.2,188.5 169.3,189.5 169.4,189.4 169.4,189.0 169.5,186.7 169.5,188.1 169.6,192.4 169.7,188.8 169.7,189.4 169.8,187.7 169.8,189.3 169.9,189.5 170.0,190.1 170.0,192.3 170.1,189.3 170.1,188.9 170.2,188.2 170.3,189.1 170.3,189.4 170.4,192.4 170.4,189.7 170.5,190.2 170.6,190.4 170.6,185.9 170.7,189.0 170.7,190.0 170.8,187.6 170.9,188.7 170.9,190.8 171.0,190.5 171.0,188.8 171.1,188.6 171.2,191.5 171.2,190.2 171.3,189.8 171.3,191.0 171.4,190.8 171.5,195.2 171.5,188.8 171.6,191.4 171.6,190.5 171.7,189.9 171.8,190.7 171.8,187.3 171.9,189.3 171.9,189.2 172.0,191.4 172.1,191.5 172.1,190.2 172.2,190.4 172.2,191.8 172.3,190.8 172.4,190.7 172.4,193.5 172.5,191.3 172.5,191.3 172.6,191.5 172.7,188.7 172.7,191.1 172.8,192.3 172.8,191.8 172.9,193.1 173.0,191.0 173.0,191.5 173.1,190.8 173.1,190.6 173.2,189.9 173.3,190.7 173.3,190.6 173.4,191.6 173.4,191.6 173.5,192.7 173.6,192.8 173.6,192.0 173.7,192.4 173.7,191.9 173.8,191.5 173.9,192.1 173.9,192.4 174.0,194.7 174.0,193.3 174.1,190.1 174.2,192.6 174.2,190.5 174.3,192.6 174.3,193.7 174.4,193.0 174.5,191.0 174.5,192.3 174.6,191.6 174.6,193.0 174.7,193.2 174.8,193.3 174.8,192.3 174.9,193.0 174.9,191.8 175.0,194.9 175.1,195.0 175.1,189.9 175.2,193.1 175.2,193.5 175.3,192.2 175.4,190.2 175.4,187.3 175.5,193.6 175.5,189.3 175.6,192.9 175.7,194.1 175.7,190.9 175.8,193.8 175.8,193.2 175.9,193.1 176.0,193.3 176.0,193.0 176.1,194.8 176.1,193.9 176.2,193.3 176.3,192.1 176.3,193.6 176.4,200.1 176.4,195.2 176.5,191.6 176.6,193.4 176.6,193.7 176.7,193.6 176.7,192.3 176.8,192.8 176.9,194.0 176.9,194.5 177.0,194.6 177.0,194.4 177.1,194.5 177.2,189.9 177.2,193.3 177.3,193.7 177.3,193.5 177.4,193.9 177.5,194.0 177.5,193.9 177.6,190.3 177.6,195.7 177.7,196.9 177.8,194.7 177.8,193.8 177.9,194.4 177.9,196.3 178.0,194.8 178.1,195.1 178.1,195.1 178.2,198.0 178.2,195.0 178.3,193.1 178.4,194.7 178.4,196.7 178.5,193.4 178.5,192.5 178.6,192.5 178.7,192.9 178.7,193.8 178.8,195.7 178.8,195.2 178.9,195.6 179.0,195.1 179.0,194.7 179.1,196.0 179.1,194.0 179.2,194.8 179.3,195.0 179.3,195.7 179.4,196.0 179.4,195.4 179.5,195.5 179.6,194.7 179.6,195.5 179.7,196.5 179.7,195.3 179.8,196.1 179.9,195.5 179.9,195.5 180.0,195.7 180.0,194.2 180.1,194.7 180.2,194.5 180.2,195.7 180.3,196.0 180.3,196.2 180.4,194.8 180.5,195.3 180.5,194.5 180.6,196.1 180.6,195.6 180.7,195.2 180.8,195.0 180.8,198.2 180.9,195.8 180.9,200.0 181.0,195.5 181.1,195.1 181.1,196.5 181.2,197.7 181.2,194.9 181.3,197.3 181.4,196.3 181.4,197.8 181.5,198.4 181.5,196.0 181.6,198.3 181.7,195.2 181.7,196.1 181.8,196.1 181.8,195.5 181.9,196.2 182.0,197.0 182.0,194.8 182.1,196.3 182.1,196.4 182.2,195.4 182.3,196.7 182.3,195.7 182.4,196.6 182.4,196.6 182.5,197.2 182.6,198.6 182.6,198.5 182.7,196.6 182.7,195.9 182.8,195.9 182.9,197.5 182.9,197.4 183.0,197.6 183.0,197.8 183.1,196.9 183.2,198.3 183.2,197.1 183.3,197.1 183.3,197.9 183.4,197.2 183.5,197.6 183.5,198.8 183.6,196.6 183.6,197.6 183.7,196.4 183.8,196.9 183.8,198.3 183.9,199.9 183.9,199.2 184.0,197.7 184.1,198.2 184.1,198.5 184.2,197.3 184.2,196.4 184.3,193.8 184.4,197.9 184.4,197.9 184.5,197.8 184.5,197.4 184.6,197.6 184.7,197.8 184.7,197.3 184.8,197.6 184.8,196.5 184.9,197.4 185.0,197.6 185.0,197.5 185.1,196.7 185.1,196.0 185.2,197.7 185.3,195.9 185.3,198.3 185.4,196.4 185.4,198.2 185.5,197.1 185.6,199.1 185.6,196.7 185.7,196.4 185.7,198.0 185.8,198.3 185.9,197.2 185.9,197.5 186.0,198.0 186.0,197.1 186.1,197.4 186.2,197.8 186.2,197.2 186.3,196.5 186.3,199.4 186.4,196.3 186.5,201.3 186.5,198.9 186.6,197.6 186.6,199.0 186.7,195.8 186.8,197.9 186.8,197.5 186.9,197.3 186.9,199.4 187.0,195.3 187.1,199.1 187.1,196.1 187.2,198.3 187.2,197.4 187.3,198.0 187.4,199.8 187.4,198.8 187.5,196.4 187.5,197.5 187.6,198.0 187.7,198.6 187.7,193.6 187.8,199.3 187.8,199.2 187.9,200.4 188.0,197.2 188.0,197.3 188.1,199.2 188.1,198.1 188.2,197.4 188.3,194.9 188.3,197.3 188.4,198.6 188.4,198.8 188.5,197.9 188.6,200.0 188.6,198.2 188.7,198.3 188.7,198.0 188.8,198.1 188.9,198.0 188.9,199.3 189.0,198.2 189.0,197.6 189.1,198.2 189.2,200.2 189.2,198.7 189.3,196.9 189.3,198.2 189.4,198.3 189.5,194.9 189.5,200.9 189.6,200.1 189.6,196.9 189.7,198.6 189.8,198.0 189.8,197.6 189.9,197.9 189.9,196.4 190.0,199.0 190.1,198.2 190.1,199.0 190.2,199.5 190.2,198.7 190.3,198.2 190.4,197.4 190.4,198.9 190.5,199.0 190.5,199.4 190.6,197.4 190.7,196.4 190.7,200.0 190.8,198.9 190.8,197.1 190.9,199.2 191.0,196.6 191.0,199.0 191.1,198.8 191.1,199.3 191.2,197.1 191.3,200.4 191.3,200.8 191.4,202.1 191.4,199.5 191.5,198.4 191.6,201.8 191.6,199.1 191.7,199.4 191.7,199.2 191.8,198.0 191.9,200.0 191.9,199.2 192.0,198.1 192.0,198.6 192.1,197.7 192.2,198.8 192.2,202.6 192.3,198.7 192.3,198.7 192.4,199.8 192.5,197.3 192.5,197.6 192.6,199.6 192.6,197.7 192.7,199.3 192.8,200.0 192.8,199.2 192.9,197.3 192.9,198.2 193.0,199.1 193.1,201.3 193.1,199.4 193.2,199.6 193.2,199.3 193.3,198.7 193.4,199.4 193.4,195.4 193.5,199.0 193.5,200.1 193.6,198.3 193.7,199.5 193.7,199.7 193.8,198.1 193.8,200.4 193.9,198.5 194.0,201.7 194.0,198.9 194.1,199.5 194.1,201.4 194.2,200.2 194.3,199.3 194.3,198.4 194.4,199.5 194.4,199.5 194.5,197.4 194.6,199.1 194.6,201.1 194.7,199.4 194.7,198.4 194.8,199.7 194.9,199.3 194.9,201.0 195.0,199.4 195.0,196.7 195.1,198.4 195.2,198.4 195.2,201.6 195.3,199.1 195.3,199.1 195.4,202.3 195.5,198.6 195.5,199.7 195.6,201.6 195.6,201.1 195.7,198.5 195.8,199.5 195.8,198.9 195.9,200.0 195.9,198.9 196.0,198.6 196.1,199.0 196.1,198.3 196.2,200.1 196.2,199.1 196.3,199.4 196.4,199.1 196.4,199.4 196.5,199.2 196.5,199.3 196.6,200.2 196.7,198.7 196.7,200.1 196.8,199.3 196.8,198.1 196.9,198.4 197.0,201.2 197.0,197.4 197.1,199.2 197.1,200.9 197.2,198.0 197.3,199.0 197.3,199.2 197.4,200.8 197.4,198.4 197.5,201.8 197.6,198.5 197.6,199.9 197.7,200.5 197.7,199.9 197.8,199.8 197.9,199.7 197.9,199.2 198.0,203.7 198.0,199.7 198.1,200.2 198.2,200.0 198.2,202.2 198.3,199.2 198.3,198.8 198.4,201.4 198.5,199.9 198.5,200.2 198.6,200.2 198.6,200.7 198.7,201.0 198.8,200.4 198.8,195.8 198.9,201.0 198.9,197.7 199.0,201.1 199.1,194.4 199.1,200.7 199.2,200.3 199.2,197.3 199.3,200.7 199.4,200.2 199.4,198.8 199.5,201.3 199.5,200.3 199.6,200.0 199.7,202.1 199.7,199.3 199.8,199.2 199.8,201.5 199.9,199.1 200.0,201.0 200.0,199.4 200.1,201.0 200.1,200.0 200.2,200.4 200.3,200.4 200.3,200.0 200.4,200.2 200.4,200.5 200.5,199.0 200.6,201.8 200.6,201.2 200.7,199.4 200.7,199.5 200.8,200.0 200.9,201.0 200.9,200.3 201.0,199.9 201.0,201.0 201.1,199.4 201.2,200.8 201.2,200.9 201.3,198.9 201.3,200.5 201.4,200.5 201.5,202.9 201.5,199.9 201.6,200.3 201.6,202.2 201.7,199.2 201.8,201.8 201.8,200.1 201.9,200.1 201.9,204.6 202.0,200.2 202.1,199.8 202.1,199.6 202.2,200.9 202.2,200.7 202.3,199.8 202.4,200.4 202.4,200.0 202.5,201.5 202.5,200.2 202.6,200.7 202.7,202.1 202.7,199.8 202.8,202.6 202.8,200.5 202.9,200.8 203.0,200.0 203.0,201.0 203.1,201.1 203.1,200.7 203.2,201.7 203.3,200.5 203.3,197.4 203.4,202.2 203.4,200.7 203.5,200.8 203.6,200.8 203.6,198.4 203.7,200.1 203.7,199.1 203.8,201.0 203.9,201.8 203.9,201.0 204.0,201.5 204.0,200.3 204.1,198.2 204.2,200.5 204.2,199.7 204.3,200.3 204.3,200.0 204.4,199.8 204.5,201.1 204.5,200.9 204.6,201.7 204.6,203.9 204.7,200.1 204.8,202.6 204.8,201.5 204.9,200.9 204.9,203.4 205.0,200.8 205.1,198.2 205.1,199.6 205.2,200.4 205.2,201.3 205.3,201.0 205.4,201.2 205.4,197.9 205.5,200.2 205.5,201.0 205.6,201.2 205.7,200.7 205.7,200.1 205.8,200.5 205.8,201.6 205.9,201.4 206.0,200.3 206.0,203.0 206.1,198.7 206.1,200.2 206.2,200.8 206.3,201.8 206.3,201.1 206.4,201.3 206.4,203.1 206.5,200.7 206.6,200.1 206.6,200.8 206.7,201.1 206.7,199.8 206.8,198.7 206.9,201.5 206.9,204.4 207.0,202.8 207.0,200.8 207.1,201.0 207.2,202.0 207.2,204.2 207.3,200.8 207.3,203.2 207.4,201.5 207.5,200.0 207.5,201.0 207.6,196.5 207.6,200.9 207.7,201.2 207.8,201.9 207.8,200.8 207.9,201.4 207.9,201.5 208.0,201.2 208.1,201.4 208.1,201.1 208.2,201.4 208.2,201.1 208.3,202.7 208.4,199.9 208.4,202.4 208.5,201.8 208.5,197.8 208.6,201.7 208.7,200.9 208.7,201.2 208.8,201.3 208.8,201.8 208.9,201.2 209.0,201.5 209.0,200.5 209.1,199.5 209.1,201.6 209.2,204.7 209.3,199.6 209.3,202.8 209.4,201.1 209.4,201.6 209.5,200.8 209.6,201.8 209.6,201.2 209.7,202.1 209.7,200.8 209.8,201.0 209.9,201.6 209.9,200.0 210.0,204.1 210.0,201.6 210.1,204.0 210.2,200.5 210.2,201.9 210.3,200.6 210.3,199.8 210.4,201.3 210.5,201.4 210.5,201.5 210.6,201.4 210.6,200.6 210.7,201.9 210.8,200.9 210.8,201.0 210.9,202.2 210.9,201.9 211.0,202.0 211.1,203.1 211.1,202.6 211.2,200.8 211.2,204.2 211.3,201.6 211.4,201.6 211.4,201.0 211.5,201.3 211.5,201.7 211.6,199.1 211.7,202.1 211.7,201.2 211.8,202.0 211.8,202.1 211.9,201.8 212.0,199.9 212.0,201.7 212.1,201.3 212.1,202.1 212.2,202.1 212.3,201.6 212.3,202.2 212.4,200.5 212.4,202.5 212.5,204.1 212.6,203.1 212.6,202.5 212.7,201.5 212.7,203.5 212.8,201.8 212.9,200.9 212.9,201.8 213.0,202.8 213.0,202.1 213.1,202.7 213.2,199.4 213.2,204.2 213.3,203.4 213.3,201.8 213.4,203.4 213.5,200.9 213.5,201.5 213.6,200.8 213.6,202.2 213.7,203.4 213.8,203.6 213.8,200.2 213.9,202.5 213.9,201.9 214.0,201.1 214.1,203.2 214.1,201.9 214.2,199.6 214.2,201.6 214.3,202.3 214.4,202.9 214.4,201.0 214.5,202.1 214.5,200.3 214.6,203.4 214.7,198.4 214.7,204.4 214.8,202.0 214.8,202.5 214.9,202.3 215.0,201.9 215.0,201.8 215.1,201.2 215.1,201.5 215.2,200.5 215.3,201.4 215.3,202.3 215.4,202.1 215.4,202.1 215.5,202.0 215.6,204.0 215.6,203.1 215.7,201.4 215.7,202.1 215.8,204.5 215.9,201.5 215.9,202.5 216.0,202.3 216.0,202.4 216.1,202.2 216.2,202.6 216.2,201.8 216.3,203.9 216.3,202.2 216.4,201.7 216.5,202.4 216.5,202.5 216.6,203.7 216.6,202.4 216.7,202.2 216.8,201.8 216.8,202.0 216.9,201.6 216.9,202.4 217.0,203.3 217.1,202.3 217.1,201.4 217.2,199.8 217.2,203.4 217.3,201.7 217.4,202.6 217.4,204.1 217.5,204.1 217.5,202.3 217.6,203.8 217.7,202.0 217.7,204.1 217.8,202.6 217.8,200.6 217.9,203.1 218.0,201.2 218.0,206.8 218.1,200.2 218.1,202.9 218.2,201.2 218.3,202.3 218.3,202.0 218.4,203.5 218.4,201.8 218.5,202.8 218.6,204.2 218.6,200.5 218.7,202.8 218.7,200.7 218.8,203.0 218.9,203.4 218.9,201.2 219.0,203.6 219.0,202.2 219.1,201.9 219.2,204.7 219.2,202.1 219.3,201.6 219.3,202.0 219.4,203.9 219.5,205.4 219.5,202.3 219.6,202.4 219.6,202.6 219.7,203.4 219.8,198.9 219.8,203.2 219.9,205.0 219.9,202.3 220.0,202.3 220.1,204.6 220.1,202.3 220.2,202.2 220.2,203.6 220.3,202.4 220.4,202.8 220.4,202.0 220.5,202.9 220.5,202.2 220.6,203.2 220.7,202.5 220.7,204.1 220.8,202.6 220.8,203.6 220.9,202.4 221.0,202.9 221.0,202.0 221.1,202.7 221.1,202.9 221.2,201.7 221.3,202.7 221.3,204.2 221.4,201.8 221.4,202.6 221.5,203.6 221.6,202.5 221.6,200.1 221.7,202.7 221.7,202.5 221.8,204.3 221.9,203.0 221.9,203.3 222.0,202.4 222.0,204.0 222.1,203.6 222.2,201.2 222.2,203.0 222.3,204.1 222.3,203.0 222.4,205.2 222.5,202.1 222.5,202.9 222.6,202.8 222.6,202.2 222.7,203.4 222.8,202.6 222.8,203.0 222.9,203.5 222.9,203.3 223.0,201.3 223.1,200.8 223.1,203.7 223.2,203.1 223.2,201.7 223.3,201.6 223.4,202.8 223.4,201.9 223.5,204.5 223.5,202.1 223.6,204.7 223.7,203.3 223.7,202.9 223.8,203.2 223.8,203.2 223.9,202.3 224.0,202.8 224.0,201.1 224.1,200.8 224.1,204.8 224.2,203.9 224.3,203.5 224.3,201.5 224.4,203.1 224.4,203.4 224.5,202.8 224.6,202.6 224.6,203.4 224.7,199.5 224.7,202.9 224.8,202.3 224.9,202.8 224.9,203.0 225.0,202.8 225.0,204.2 225.1,204.2 225.2,203.6 225.2,203.7 225.3,203.0 225.3,202.4 225.4,203.8 225.5,201.7 225.5,203.2 225.6,203.3 225.6,201.7 225.7,202.2 225.8,203.4 225.8,204.1 225.9,202.8 225.9,203.1 226.0,203.5 226.1,203.2 226.1,203.0 226.2,203.3 226.2,203.5 226.3,203.9 226.4,203.2 226.4,203.4 226.5,202.3 226.5,202.1 226.6,203.9 226.7,202.4 226.7,203.0 226.8,204.4 226.8,202.0 226.9,203.5 227.0,202.5 227.0,203.4 227.1,204.0 227.1,204.0 227.2,203.8 227.3,203.2 227.3,203.2 227.4,202.2 227.4,201.9 227.5,203.8 227.6,201.2 227.6,204.9 227.7,202.3 227.7,203.7 227.8,203.1 227.9,203.4 227.9,203.8 228.0,202.8 228.0,204.1 228.1,203.9 228.2,203.4 228.2,203.4 228.3,203.0 228.3,205.7 228.4,203.0 228.5,202.6 228.5,203.4 228.6,204.9 228.6,204.9 228.7,203.4 228.8,203.1 228.8,203.9 228.9,203.4 228.9,204.2 229.0,204.3 229.1,203.8 229.1,205.9 229.2,203.6 229.2,205.9 229.3,203.7 229.4,202.6 229.4,203.6 229.5,204.0 229.5,203.2 229.6,202.4 229.7,203.1 229.7,204.1 229.8,202.6 229.8,200.1 229.9,204.6 230.0,205.9 230.0,204.6 230.1,204.2 230.1,204.0 230.2,203.5 230.3,203.7 230.3,204.0 230.4,203.1 230.4,202.7 230.5,203.9 230.6,203.7 230.6,206.9 230.7,203.3 230.7,203.3 230.8,202.3 230.9,200.4 230.9,202.4 231.0,203.7 231.0,205.8 231.1,202.2 231.2,202.5 231.2,203.9 231.3,203.1 231.3,201.4 231.4,204.8 231.5,202.5 231.5,203.4 231.6,204.2 231.6,204.3 231.7,205.7 231.8,203.7 231.8,202.5 231.9,202.0 231.9,203.9 232.0,203.7 232.1,203.0 232.1,202.6 232.2,203.3 232.2,203.1 232.3,203.3 232.4,203.3 232.4,204.2 232.5,203.6 232.5,204.7 232.6,203.7 232.7,203.2 232.7,205.3 232.8,204.0 232.8,204.7 232.9,203.0 233.0,206.2 233.0,204.0 233.1,203.4 233.1,203.1 233.2,202.3 233.3,201.3 233.3,202.9 233.4,203.3 233.4,203.8 233.5,203.5 233.6,201.7 233.6,202.7 233.7,200.9 233.7,201.6 233.8,203.3 233.9,204.0 233.9,202.7 234.0,205.0 234.0,207.0 234.1,204.0 234.2,201.8 234.2,202.9 234.3,203.8 234.3,205.6 234.4,206.7 234.5,204.4 234.5,205.1 234.6,202.4 234.6,203.9 234.7,203.8 234.8,203.1 234.8,204.0 234.9,204.0 234.9,206.3 235.0,202.1 235.1,203.4 235.1,203.0 235.2,203.2 235.2,203.5 235.3,203.6 235.4,206.0 235.4,203.6 235.5,203.9 235.5,203.0 235.6,203.2 235.7,203.2 235.7,204.1 235.8,203.5 235.8,203.4 235.9,204.0 236.0,201.0 236.0,205.1 236.1,202.0 236.1,203.8 236.2,207.3 236.3,203.1 236.3,201.9 236.4,204.0 236.4,204.3 236.5,203.8 236.6,203.3 236.6,204.4 236.7,204.2 236.7,203.7 236.8,204.3 236.9,205.0 236.9,204.1 237.0,203.8 237.0,204.3 237.1,204.1 237.2,202.7 237.2,205.5 237.3,202.9 237.3,204.7 237.4,204.0 237.5,204.8 237.5,204.2 237.6,205.0 237.6,204.1 237.7,203.5 237.8,204.8 237.8,205.1 237.9,204.2 237.9,205.8 238.0,204.6 238.1,205.9 238.1,203.4 238.2,206.1 238.2,204.8 238.3,206.1 238.4,203.9 238.4,204.3 238.5,205.5 238.5,204.6 238.6,203.7 238.7,203.8 238.7,206.2 238.8,204.6 238.8,202.3 238.9,203.7 239.0,204.4 239.0,203.4 239.1,204.2 239.1,204.6 239.2,202.7 239.3,203.7 239.3,205.5 239.4,202.1 239.4,203.0 239.5,205.2 239.6,204.7 239.6,204.3 239.7,205.4 239.7,203.6 239.8,200.5 239.9,205.2 239.9,204.6 240.0,204.0 240.0,204.5 240.1,202.8 240.2,204.0 240.2,204.5 240.3,205.4 240.3,204.0 240.4,202.6 240.5,202.9 240.5,204.0 240.6,204.7 240.6,204.9 240.7,204.9 240.8,205.6 240.8,204.8 240.9,204.8 240.9,204.6 241.0,204.8 241.1,205.0 241.1,207.1 241.2,203.6 241.2,204.8 241.3,203.3 241.4,203.7 241.4,206.1 241.5,204.3 241.5,204.6 241.6,203.8 241.7,204.5 241.7,201.9 241.8,204.7 241.8,206.6 241.9,204.9 242.0,204.9 242.0,204.7 242.1,204.2 242.1,205.3 242.2,204.4 242.3,204.2 242.3,204.7 242.4,207.2 242.4,205.1 242.5,205.0 242.6,203.4 242.6,205.4 242.7,204.5 242.7,204.9 242.8,204.7 242.9,205.4 242.9,202.3 243.0,203.3 243.0,204.2 243.1,203.9 243.2,205.1 243.2,203.4 243.3,203.2 243.3,204.7 243.4,203.0 243.5,205.5 243.5,204.4 243.6,204.3 243.6,204.9 243.7,207.3 243.8,204.2 243.8,204.1 243.9,204.5 243.9,205.4 244.0,206.5 244.1,203.8 244.1,202.4 244.2,204.4 244.2,204.4 244.3,205.4 244.4,205.2 244.4,205.4 244.5,204.6 244.5,204.7 244.6,206.7 244.7,202.8 244.7,202.1 244.8,201.9 244.8,205.7 244.9,204.9 245.0,205.3 245.0,205.2 245.1,205.7 245.1,204.9 245.2,204.5 245.3,203.6 245.3,204.7 245.4,204.1 245.4,206.5 245.5,205.5 245.6,204.4 245.6,204.9 245.7,204.9 245.7,205.1 245.8,206.8 245.9,204.4 245.9,205.2 246.0,205.0 246.0,207.0 246.1,204.3 246.2,205.3 246.2,203.5 246.3,205.1 246.3,207.1 246.4,205.5 246.5,202.6 246.5,207.9 246.6,205.1 246.6,205.2 246.7,206.9 246.8,205.2 246.8,204.3 246.9,204.9 246.9,205.6 247.0,204.9 247.1,204.1 247.1,204.8 247.2,203.7 247.2,203.7 247.3,203.9 247.4,205.1 247.4,204.7 247.5,204.2 247.5,205.7 247.6,205.3 247.7,206.0 247.7,204.2 247.8,205.4 247.8,204.6 247.9,205.1 248.0,205.0 248.0,205.3 248.1,205.3 248.1,206.7 248.2,205.4 248.3,204.9 248.3,205.9 248.4,204.2 248.4,205.9 248.5,205.3 248.6,204.7 248.6,205.8 248.7,204.0 248.7,203.0 248.8,204.7 248.9,205.2 248.9,205.5 249.0,204.9 249.0,205.4 249.1,208.0 249.2,210.2 249.2,205.8 249.3,204.8 249.3,205.2 249.4,206.1 249.5,206.6 249.5,207.3 249.6,205.1 249.6,205.0 249.7,205.0 249.8,206.0 249.8,207.4 249.9,205.5 249.9,205.2 250.0,205.7 250.1,205.2 250.1,205.5 250.2,204.5 250.2,204.0 250.3,205.2 250.4,204.9 250.4,204.4 250.5,207.6 250.5,205.8 250.6,205.2 250.7,208.9 250.7,204.1 250.8,205.1 250.8,206.7 250.9,207.8 251.0,206.2 251.0,204.6 251.1,205.6 251.1,203.8 251.2,203.7 251.3,206.6 251.3,201.0 251.4,204.1 251.4,204.2 251.5,206.0 251.6,205.8 251.6,204.8 251.7,205.3 251.7,207.5 251.8,204.8 251.9,203.8 251.9,205.8 252.0,204.2 252.0,205.7 252.1,205.0 252.2,203.3 252.2,205.9 252.3,206.2 252.3,205.2 252.4,204.6 252.5,208.2 252.5,205.0 252.6,205.0 252.6,205.3 252.7,205.0 252.8,205.0 252.8,207.2 252.9,204.1 252.9,206.6 253.0,205.7 253.1,203.4 253.1,204.6 253.2,206.0 253.2,205.8 253.3,205.1 253.4,205.2 253.4,207.3 253.5,206.2 253.5,206.0 253.6,207.3 253.7,205.1 253.7,205.4 253.8,206.7 253.8,205.6 253.9,205.6 254.0,206.6 254.0,211.4 254.1,207.0 254.1,206.4 254.2,205.7 254.3,206.2 254.3,205.1 254.4,205.2 254.4,205.0 254.5,206.2 254.6,207.7 254.6,206.4 254.7,205.3 254.7,206.1 254.8,205.5 254.9,206.7 254.9,205.8 255.0,205.3 255.0,205.4 255.1,204.4 255.2,205.6 255.2,205.5 255.3,205.8 255.3,206.2 255.4,207.5 255.5,206.7 255.5,206.0 255.6,205.6 255.6,205.0 255.7,206.1 255.8,204.2 255.8,204.0 255.9,206.2 255.9,205.0 256.0,206.9 256.1,206.3 256.1,206.0 256.2,207.7 256.2,204.8 256.3,205.6 256.4,206.0 256.4,208.2 256.5,204.4 256.5,206.2 256.6,207.5 256.7,205.0 256.7,206.5 256.8,206.4 256.8,205.7 256.9,206.1 257.0,207.8 257.0,206.0 257.1,206.0 257.1,206.2 257.2,203.7 257.3,206.9 257.3,204.2 257.4,208.7 257.4,208.5 257.5,206.9 257.6,207.4 257.6,206.3 257.7,205.7 257.7,206.3 257.8,206.5 257.9,205.1 257.9,206.8 258.0,205.7 258.0,206.2 258.1,205.6 258.2,205.7 258.2,207.3 258.3,206.8 258.3,204.4 258.4,206.8 258.5,207.8 258.5,206.6 258.6,206.6 258.6,205.7 258.7,206.6 258.8,206.0 258.8,207.8 258.9,206.7 258.9,205.9 259.0,207.5 259.1,206.9 259.1,205.5 259.2,205.5 259.2,203.2 259.3,206.9 259.4,204.8 259.4,205.8 259.5,206.8 259.5,205.9 259.6,205.8 259.7,204.6 259.7,204.4 259.8,206.4 259.8,205.2 259.9,208.5 260.0,203.9 260.0,206.0 260.1,205.5 260.1,207.7 260.2,206.9 260.3,205.1 260.3,204.5 260.4,204.9 260.4,206.9 260.5,207.0 260.6,206.6 260.6,206.4 260.7,206.3 260.7,206.6 260.8,205.1 260.9,207.2 260.9,207.1 261.0,206.8 261.0,205.8 261.1,205.7 261.2,209.1 261.2,208.4 261.3,207.0 261.3,207.2 261.4,206.4 261.5,207.7 261.5,206.9 261.6,206.4 261.6,206.9 261.7,205.0 261.8,206.3 261.8,207.5 261.9,206.5 261.9,206.6 262.0,206.6 262.1,208.4 262.1,205.8 262.2,206.9 262.2,206.5 262.3,205.9 262.4,204.6 262.4,206.8 262.5,205.7 262.5,206.7 262.6,206.5 262.7,206.4 262.7,207.9 262.8,205.2 262.8,206.7 262.9,206.5 263.0,205.6 263.0,206.4 263.1,207.7 263.1,205.9 263.2,207.0 263.3,206.1 263.3,206.7 263.4,206.8 263.4,205.1 263.5,207.5 263.6,206.5 263.6,206.0 263.7,206.0 263.7,209.6 263.8,208.5 263.9,206.7 263.9,206.2 264.0,207.2 264.0,204.9 264.1,207.8 264.2,203.0 264.2,204.8 264.3,206.4 264.3,206.7 264.4,203.0 264.5,206.3 264.5,209.6 264.6,207.4 264.6,205.0 264.7,208.0 264.8,206.7 264.8,210.0 264.9,206.4 264.9,206.4 265.0,207.2 265.1,206.8 265.1,206.3 265.2,206.9 265.2,207.1 265.3,206.5 265.4,207.7 265.4,207.4 265.5,207.5 265.5,207.2 265.6,206.2 265.7,207.3 265.7,206.0 265.8,205.9 265.8,206.9 265.9,206.0 266.0,205.8 266.0,207.1 266.1,209.4 266.1,205.1 266.2,206.8 266.3,205.5 266.3,207.0 266.4,207.1 266.4,206.9 266.5,204.9 266.6,207.4 266.6,207.0 266.7,207.1 266.7,207.3 266.8,208.4 266.9,206.9 266.9,208.5 267.0,206.2 267.0,206.9 267.1,206.2 267.2,206.8 267.2,208.4 267.3,209.5 267.3,207.0 267.4,206.6 267.5,206.7 267.5,208.4 267.6,207.0 267.6,206.3 267.7,208.0 267.8,207.1 267.8,207.0 267.9,208.5 267.9,207.7 268.0,204.2 268.1,209.4 268.1,207.0 268.2,206.3 268.2,208.6 268.3,207.0 268.4,207.5 268.4,207.7 268.5,206.4 268.5,210.0 268.6,207.3 268.7,205.4 268.7,207.2 268.8,204.5 268.8,209.8 268.9,207.5 269.0,207.0 269.0,208.0 269.1,208.0 269.1,207.7 269.2,206.6 269.3,205.8 269.3,208.3 269.4,208.5 269.4,207.0 269.5,207.0 269.6,207.1 269.6,206.8 269.7,209.0 269.7,207.3 269.8,207.7 269.9,207.5 269.9,205.9 270.0,205.7 270.0,206.3 270.1,207.3 270.2,207.6 270.2,211.3 270.3,208.7 270.3,207.9 270.4,207.1 270.5,207.0 270.5,207.8 270.6,207.1 270.6,208.0 270.7,207.9 270.8,206.2 270.8,208.2 270.9,206.0 270.9,207.0 271.0,209.9 271.1,207.7 271.1,208.4 271.2,209.0 271.2,206.9 271.3,208.2 271.4,207.2 271.4,205.8 271.5,206.2 271.5,206.3 271.6,207.7 271.7,207.7 271.7,208.5 271.8,207.0 271.8,208.1 271.9,207.0 272.0,207.1 272.0,207.8 272.1,207.3 272.1,212.1 272.2,207.1 272.3,206.9 272.3,208.7 272.4,208.7 272.4,206.6 272.5,207.2 272.6,207.6 272.6,205.9 272.7,207.3 272.7,208.2 272.8,208.2 272.9,206.6 272.9,207.2 273.0,207.1 273.0,208.0 273.1,206.5 273.2,210.6 273.2,206.4 273.3,207.7 273.3,208.1 273.4,209.5 273.5,207.9 273.5,208.7 273.6,207.7 273.6,207.0 273.7,207.5 273.8,207.9 273.8,207.7 273.9,208.4 273.9,207.8 274.0,207.5 274.1,207.7 274.1,207.7 274.2,204.5 274.2,207.4 274.3,207.9 274.4,208.2 274.4,207.6 274.5,208.3 274.5,207.8 274.6,207.5 274.7,207.2 274.7,208.5 274.8,209.3 274.8,208.3 274.9,207.1 275.0,208.2 275.0,207.8 275.1,209.4 275.1,204.2 275.2,208.5 275.3,207.8 275.3,208.8 275.4,208.0 275.4,204.4 275.5,208.2 275.6,207.9 275.6,207.2 275.7,206.7 275.7,207.7 275.8,208.0 275.9,207.8 275.9,205.1 276.0,206.9 276.0,208.3 276.1,208.0 276.2,208.4 276.2,207.8 276.3,207.4 276.3,208.7 276.4,207.2 276.5,206.2 276.5,207.7 276.6,207.9 276.6,207.2 276.7,209.9 276.8,207.3 276.8,206.8 276.9,208.3 276.9,207.0 277.0,207.5 277.1,207.8 277.1,207.5 277.2,208.3 277.2,207.0 277.3,208.3 277.4,206.8 277.4,208.2 277.5,210.6 277.5,208.7 277.6,209.9 277.7,208.1 277.7,207.1 277.8,207.8 277.8,208.7 277.9,207.0 278.0,208.4 278.0,207.7 278.1,209.6 278.1,207.8 278.2,207.7 278.3,207.6 278.3,208.2 278.4,210.0 278.4,208.2 278.5,208.7 278.6,208.2 278.6,206.7 278.7,208.3 278.7,208.3 278.8,208.3 278.9,207.7 278.9,207.7 279.0,207.8 279.0,205.9 279.1,207.3 279.2,207.7 279.2,208.2 279.3,209.6 279.3,208.6 279.4,208.2 279.5,208.7 279.5,208.1 279.6,206.3 279.6,208.6 279.7,208.7 279.8,208.6 279.8,209.3 279.9,208.9 279.9,209.1 280.0,206.3 280.1,214.9 280.1,208.4 280.2,208.5 280.2,208.5 280.3,207.8 280.4,207.9 280.4,209.5 280.5,208.5 280.5,210.4 280.6,207.6 280.7,208.5 280.7,208.5 280.8,206.2 280.8,208.6 280.9,208.1 281.0,208.2 281.0,207.6 281.1,208.5 281.1,208.7 281.2,209.6 281.3,209.3 281.3,211.0 281.4,210.9 281.4,208.8 281.5,207.9 281.6,208.5 281.6,207.0 281.7,208.5 281.7,208.0 281.8,208.5 281.9,209.0 281.9,206.7 282.0,209.6 282.0,206.4 282.1,208.5 282.2,207.8 282.2,206.4 282.3,208.5 282.3,208.0 282.4,207.0 282.5,209.4 282.5,207.9 282.6,210.2 282.6,208.7 282.7,208.3 282.8,206.8 282.8,209.5 282.9,207.3 282.9,209.2 283.0,208.6 283.1,208.5 283.1,207.1 283.2,208.4 283.2,205.8 283.3,209.2 283.4,209.0 283.4,207.5 283.5,208.6 283.5,207.8 283.6,209.1 283.7,207.8 283.7,207.8 283.8,208.2 283.8,211.0 283.9,209.5 284.0,208.5 284.0,209.4 284.1,208.4 284.1,207.9 284.2,210.0 284.3,206.6 284.3,209.4 284.4,210.7 284.4,207.3 284.5,209.7 284.6,209.4 284.6,206.7 284.7,208.6 284.7,208.2 284.8,208.5 284.9,208.5 284.9,208.6 285.0,205.6 285.0,208.3 285.1,208.3 285.2,209.1 285.2,209.2 285.3,209.3 285.3,209.0 285.4,210.0 285.5,208.9 285.5,208.4 285.6,206.8 285.6,209.3 285.7,208.9 285.8,207.9 285.8,208.8 285.9,210.6 285.9,209.0 286.0,208.5 286.1,209.6 286.1,208.7 286.2,206.0 286.2,207.4 286.3,210.9 286.4,207.5 286.4,209.6 286.5,206.6 286.5,208.8 286.6,208.4 286.7,208.6 286.7,207.5 286.8,208.7 286.8,209.5 286.9,209.0 287.0,207.9 287.0,209.7 287.1,210.0 287.1,208.9 287.2,208.7 287.3,206.3 287.3,207.4 287.4,208.7 287.4,207.8 287.5,211.2 287.6,209.3 287.6,208.6 287.7,209.2 287.7,208.1 287.8,210.5 287.9,209.0 287.9,209.4 288.0,208.2 288.0,209.0 288.1,209.5 288.2,208.8 288.2,207.4 288.3,209.0 288.3,209.9 288.4,209.0 288.5,211.7 288.5,209.2 288.6,210.3 288.6,206.9 288.7,209.3 288.8,209.1 288.8,208.8 288.9,210.4 288.9,207.8 289.0,209.1 289.1,208.7 289.1,211.2 289.2,209.8 289.2,208.4 289.3,208.1 289.4,206.7 289.4,208.3 289.5,210.7 289.5,210.3 289.6,209.9 289.7,209.0 289.7,209.2 289.8,209.3 289.8,210.0 289.9,205.4 290.0,208.4 290.0,209.4 290.1,208.2 290.1,210.9 290.2,207.3 290.3,211.6 290.3,208.6 290.4,208.5 290.4,209.1 290.5,209.5 290.6,211.8 290.6,209.2 290.7,210.6 290.7,210.5 290.8,212.1 290.9,209.0 290.9,209.3 291.0,206.8 291.0,209.1 291.1,209.1 291.2,208.2 291.2,210.2 291.3,208.9 291.3,208.3 291.4,208.2 291.5,206.9 291.5,209.9 291.6,209.4 291.6,209.4 291.7,209.2 291.8,211.5 291.8,209.2 291.9,209.4 291.9,209.8 292.0,211.0 292.1,210.4 292.1,210.6 292.2,208.6 292.2,211.2 292.3,210.3 292.4,209.1 292.4,210.2 292.5,211.4 292.5,210.0 292.6,210.0 292.7,210.4 292.7,210.6 292.8,210.2 292.8,208.0 292.9,208.8 293.0,208.4 293.0,209.5 293.1,207.9 293.1,209.6 293.2,211.0 293.3,212.2 293.3,207.5 293.4,209.9 293.4,208.6 293.5,210.6 293.6,207.3 293.6,208.3 293.7,209.2 293.7,205.9 293.8,209.9 293.9,208.9 293.9,210.1 294.0,211.4 294.0,209.6 294.1,209.6 294.2,213.6 294.2,209.3 294.3,210.8 294.3,210.1 294.4,206.4 294.5,209.2 294.5,210.1 294.6,207.7 294.6,210.7 294.7,211.1 294.8,210.3 294.8,210.5 294.9,209.9 294.9,210.5 295.0,209.6 295.1,209.5 295.1,210.1 295.2,209.7 295.2,209.3 295.3,209.2 295.4,209.6 295.4,209.5 295.5,210.3 295.5,210.4 295.6,210.5 295.7,210.7 295.7,209.5 295.8,209.5 295.8,210.7 295.9,209.0 296.0,210.2 296.0,209.8 296.1,210.1 296.1,210.2 296.2,210.1 296.3,209.2 296.3,207.4 296.4,211.7 296.4,211.1 296.5,209.8 296.6,210.2 296.6,208.5 296.7,209.8 296.7,210.0 296.8,210.3 296.9,209.2 296.9,208.5 297.0,211.9 297.0,210.8 297.1,209.1 297.2,210.7 297.2,210.7 297.3,209.1 297.3,210.7 297.4,209.7 297.5,209.6 297.5,209.0 297.6,210.1 297.6,210.2 297.7,210.0 297.8,208.7 297.8,210.7 297.9,209.6 297.9,209.5 298.0,210.2 298.1,209.2 298.1,211.4 298.2,210.3" fill="none" stroke="#000" stroke-width="1" stroke-linejoin="round"/>
<polyline points="370.5,185.6 370.8,182.7 371.1,186.7 371.4,185.5 371.7,185.4 372.0,185.6 372.3,184.0 372.6,185.0 372.9,186.2 373.2,186.1 373.5,185.3 373.8,184.4 374.1,183.7 374.4,186.0 374.7,185.0 375.0,183.9 375.3,181.8 375.6,183.2 375.9,181.9 376.2,185.5 376.5,184.2 376.8,183.1 377.1,183.6 377.4,186.9 377.7,185.2 378.0,182.3 378.3,183.6 378.6,182.3 378.9,181.7 379.2,183.9 379.5,186.4 379.8,185.4 380.1,183.6 380.4,183.1 380.7,183.8 381.0,184.7 381.3,181.8 381.6,181.3 381.9,185.6 382.2,183.7 382.5,185.2 382.8,183.6 383.1,185.1 383.4,182.6 383.7,183.9 384.0,185.1 384.3,184.5 384.6,182.8 384.9,184.3 385.2,182.5 385.5,181.7 385.8,184.0 386.1,185.0 386.4,184.4 386.7,182.1 387.0,184.6 387.3,184.4 387.6,183.2 387.9,181.0 388.2,185.1 388.5,185.0 388.8,184.7 389.1,182.2 389.4,182.6 389.7,185.5 390.0,185.3 390.3,185.1 390.6,184.3 390.9,185.1 391.2,184.0 391.5,184.3 391.8,183.7 392.1,185.0 392.4,184.2 392.7,185.7 393.0,185.4 393.3,183.6 393.6,186.6 393.9,183.1 394.2,184.8 394.5,185.4 394.8,185.5 395.1,181.4 395.4,184.9 395.7,185.0 396.0,185.1 396.3,180.8 396.6,182.4 396.9,183.0 397.2,182.4 397.5,184.3 397.8,181.9 398.1,184.0 398.4,183.1 398.7,180.7 399.0,181.1 399.3,181.5 399.6,182.0 399.9,182.9 400.2,181.5 400.5,182.6 400.8,179.6 401.1,177.8 401.4,180.8 401.7,181.6 402.0,180.5 402.3,179.7 402.6,181.2 402.9,182.8 403.2,180.4 403.5,179.5 403.8,179.3 404.1,182.4 404.4,180.0 404.7,180.6 405.0,181.2 405.3,181.0 405.6,178.6 405.9,180.6 406.2,180.4 406.5,179.9 406.8,180.4 407.1,178.5 407.4,179.0 407.7,178.3 408.0,179.7 408.3,178.0 408.6,179.1 408.9,177.3 409.2,178.3 409.5,177.9 409.8,178.1 410.1,178.3 410.4,177.8 410.7,177.6 411.0,175.4 411.3,178.8 411.6,176.8 411.9,177.0 412.2,176.2 412.5,178.0 412.8,175.7 413.1,177.0 413.4,177.6 413.7,177.9 414.0,177.1 414.3,176.2 414.6,174.0 414.9,176.5 415.2,176.2 415.5,175.5 415.8,175.2 416.1,174.2 416.4,173.3 416.7,174.9 417.0,174.8 417.3,172.0 417.6,174.0 417.9,173.0 418.2,173.4 418.5,172.5 418.8,173.2 419.1,172.8 419.4,172.4 419.7,169.7 420.0,171.8 420.3,170.7 420.6,169.2 420.9,170.9 421.2,168.3 421.5,170.5 421.8,171.1 422.1,168.4 422.4,169.6 422.7,168.8 423.0,168.7 423.3,166.1 423.6,167.9 423.9,167.1 424.2,167.4 424.5,166.3 424.8,167.1 425.1,165.9 425.4,166.0 425.7,166.4 426.0,164.8 426.3,165.4 426.6,164.3 426.9,164.3 427.2,162.9 427.5,164.0 427.8,164.2 428.1,162.5 428.4,163.2 428.7,162.5 429.0,160.5 429.3,161.9 429.6,162.7 429.9,160.4 430.2,158.7 430.5,160.6 430.8,159.4 431.1,161.9 431.4,159.5 431.7,159.2 432.0,158.2 432.3,158.9 432.6,157.7 432.9,157.0 433.2,157.6 433.5,156.4 433.8,158.4 434.1,155.3 434.4,156.2 434.7,155.1 435.0,153.9 435.3,156.9 435.6,152.3 435.9,155.8 436.2,152.1 436.5,153.3 436.8,155.3 437.1,150.0 437.4,150.3 437.7,152.9 438.0,151.2 438.3,149.9 438.6,150.1 438.9,148.6 439.2,149.4 439.5,150.5 439.8,148.1 440.1,148.3 440.4,149.1 440.7,149.6 441.0,146.3 441.3,146.9 441.6,145.6 441.9,145.1 442.2,145.1 442.5,144.4 442.8,142.8 443.1,142.1 443.4,143.2 443.7,143.8 444.0,144.6 444.3,142.2 444.6,142.2 444.9,142.7 445.2,142.4 445.5,141.0 445.8,140.7 446.1,142.4 446.4,139.5 446.7,138.9 447.0,137.2 447.3,139.1 447.6,137.8 447.9,139.8 448.2,136.8 448.5,137.6 448.8,137.2 449.1,137.5 449.4,133.6 449.7,136.3 450.0,134.0 450.3,133.3 450.6,132.5 450.9,131.8 451.2,131.2 451.5,128.3 451.8,131.0 452.1,129.8 452.4,128.1 452.7,128.5 453.0,130.6 453.3,127.8 453.6,126.3 453.9,128.2 454.2,124.7 454.5,124.9 454.8,123.9 455.1,123.6 455.4,124.1 455.7,123.3 456.0,121.2 456.3,121.2 456.6,120.7 456.9,119.4 457.2,119.1 457.5,117.4 457.8,116.5 458.1,116.3 458.4,113.9 458.7,114.4 459.0,112.4 459.3,110.3 459.6,109.4 459.9,108.3 460.2,107.5 460.5,106.6 460.8,105.0 461.1,103.0 461.4,104.5 461.7,102.6 462.0,100.5 462.3,100.3 462.6,98.3 462.9,96.4 463.2,95.6 463.5,97.4 463.8,94.3 464.1,93.2 464.4,90.4 464.7,90.3 465.0,91.0 465.3,87.7 465.6,87.2 465.9,86.0 466.2,83.9 466.5,83.6 466.8,80.5 467.1,79.3 467.4,76.5 467.7,78.8 468.0,74.6 468.3,72.9 468.6,72.9 468.9,69.2 469.2,68.2 469.5,65.8 469.8,65.2 470.1,63.3 470.4,63.0 470.7,60.9 471.0,59.2 471.3,58.5 471.6,57.7 471.9,56.3 472.2,57.2 472.5,56.0 472.8,54.6 473.1,52.2 473.4,53.5 473.7,50.5 474.0,51.6 474.3,50.7 474.6,49.2 474.9,48.2 475.2,47.6 475.5,50.3 475.8,46.4 476.1,45.6 476.4,46.3 476.7,44.7 477.0,44.7 477.3,40.9 477.6,40.3 477.9,45.7 478.2,40.5 478.5,39.8 478.8,40.1 479.1,41.1 479.4,38.1 479.7,40.5 480.0,40.7 480.3,42.5 480.6,42.7 480.9,42.7 481.2,43.4 481.5,42.2 481.8,48.3 482.1,45.8 482.4,48.4 482.7,52.3 483.0,50.1 483.3,52.5 483.6,52.2 483.9,54.4 484.2,54.3 484.5,54.4 484.8,58.1 485.1,56.4 485.4,55.6 485.7,57.9 486.0,59.9 486.3,58.0 486.6,61.6 486.9,62.1 487.2,64.8 487.5,60.9 487.8,63.4 488.1,60.2 488.4,62.6 488.7,64.0 489.0,65.0 489.3,64.8 489.6,65.3 489.9,65.1 490.2,66.1 490.5,68.0 490.8,69.2 491.1,70.2 491.4,71.6 491.7,72.7 492.0,68.5 492.3,71.4 492.6,72.8 492.9,72.7 493.2,76.2 493.5,76.3 493.8,75.4 494.1,76.2 494.4,78.6 494.7,76.3 495.0,76.7 495.3,79.3 495.6,79.0 495.9,81.0 496.2,79.6 496.5,80.7 496.8,78.8 497.1,78.5 497.4,80.5 497.7,76.1 498.0,81.9 498.3,83.2 498.6,81.9 498.9,81.7 499.2,84.3 499.5,82.5 499.8,84.5 500.1,86.9 500.4,84.4 500.7,84.9 501.0,84.2 501.3,83.8 501.6,83.8 501.9,83.5 502.2,85.2 502.5,80.4 502.8,82.7 503.1,84.3 503.4,81.5 503.7,82.7 504.0,81.6 504.3,83.4 504.6,83.9 504.9,84.8 505.2,83.0 505.5,80.7 505.8,82.1 506.1,82.5 506.4,83.6 506.7,77.5 507.0,81.4 507.3,77.6 507.6,81.5 507.9,80.8 508.2,80.5 508.5,80.7 508.8,79.4 509.1,77.3 509.4,78.3 509.7,79.0 510.0,76.2 510.3,75.8 510.6,73.1 510.9,76.0 511.2,72.6 511.5,71.4 511.8,71.0 512.1,69.6 512.4,69.6 512.7,71.0 513.0,69.4 513.3,69.5 513.6,68.7 513.9,64.4 514.2,65.5 514.5,66.1 514.8,66.2 515.1,59.9 515.4,58.6 515.7,59.5 516.0,56.0 516.3,52.3 516.6,51.2 516.9,46.9 517.2,42.5 517.5,42.7 517.8,40.2 518.1,38.3 518.4,36.3 518.7,33.5 519.0,31.7 519.3,30.4 519.6,28.4 519.9,29.2 520.2,30.2 520.5,29.4 520.8,30.6 521.1,27.8 521.4,25.6 521.7,28.3 522.0,28.3 522.3,25.6 522.6,24.9 522.9,26.8 523.2,27.3 523.5,25.3 523.8,26.8 524.1,27.5 524.4,28.7 524.7,30.5 525.0,34.2 525.3,35.6 525.6,37.4 525.9,37.8 526.2,45.4 526.5,45.4 526.8,49.5 527.1,51.8 527.4,57.1 527.7,58.9 528.0,64.8 528.3,68.7 528.6,74.4 528.9,76.8 529.2,82.6 529.5,88.9 529.8,97.3 530.1,98.4 530.4,104.6 530.7,107.6 531.0,112.4 531.3,116.0 531.6,118.2 531.9,120.6 532.2,122.7 532.5,123.6 532.8,125.7 533.1,125.7 533.4,128.7 533.7,129.7 534.0,131.7 534.3,134.3 534.6,135.4 534.9,137.1 535.2,139.4 535.5,137.3 535.8,141.9 536.1,143.0 536.4,144.5 536.7,144.7 537.0,148.2 537.3,150.3 537.6,151.6 537.9,151.7 538.2,153.8 538.5,155.3 538.8,157.4 539.1,158.0 539.4,158.0 539.7,159.0 540.0,160.1 540.3,161.2 540.6,161.3 540.9,163.4 541.2,162.6 541.5,163.1 541.8,164.9 542.1,164.5 542.4,165.4 542.7,163.9 543.0,167.5 543.3,167.1 543.6,167.4 543.9,168.4 544.2,168.5 544.5,167.8 544.8,171.0 545.1,168.6 545.4,170.4 545.7,171.5 546.0,169.0 546.3,170.0 546.6,169.2 546.9,171.5 547.2,170.1 547.5,169.4 547.8,172.2 548.1,171.9 548.4,170.0 548.7,172.5 549.0,171.5 549.3,174.5 549.6,173.5 549.9,171.0 550.2,171.5 550.5,170.9 550.8,172.2 551.1,172.2 551.4,173.1 551.7,172.5 552.0,170.8 552.3,171.7 552.6,174.4 552.9,174.2 553.2,172.8 553.5,173.0 553.8,173.0 554.1,173.4 554.4,171.5 554.7,174.7 555.0,173.0 555.3,174.0 555.6,171.0 555.9,174.4 556.2,175.8 556.5,171.7 556.8,176.3 557.1,175.2 557.4,173.8 557.7,172.9 558.0,176.4 558.3,175.4 558.6,175.9 558.9,175.0 559.2,174.4 559.5,176.6 559.8,174.4 560.1,176.8 560.4,173.8 560.7,174.8 561.0,174.2 561.3,177.8 561.6,174.1 561.9,174.9 562.2,177.2 562.5,176.8 562.8,179.3 563.1,179.0 563.4,177.5 563.7,177.7 564.0,174.6 564.3,175.9 564.6,176.7 564.9,176.9 565.2,175.5 565.5,176.1 565.8,176.3 566.1,178.7 566.4,178.0 566.7,177.1 567.0,177.2 567.3,178.0 567.6,176.8 567.9,177.4 568.2,175.6 568.5,178.7 568.8,179.1 569.1,178.4 569.4,178.6 569.7,178.5 570.0,180.6 570.3,178.4 570.6,176.6 570.9,177.0 571.2,179.2 571.5,179.7 571.8,179.4 572.1,179.5 572.4,178.7 572.7,176.7 573.0,177.7 573.3,176.4 573.6,178.2 573.9,177.1 574.2,178.9 574.5,178.6 574.8,176.5 575.1,179.8 575.4,179.9 575.7,177.3 576.0,179.2 576.3,180.0 576.6,178.8 576.9,180.2 577.2,179.4 577.5,180.6 577.8,179.5 578.1,179.1 578.4,180.0 578.7,180.3 579.0,179.7 579.3,178.9 579.6,178.5 579.9,179.0 580.2,178.8 580.5,179.8 580.8,179.8 581.1,179.5 581.4,179.6 581.7,179.8 582.0,181.6 582.3,181.2 582.6,179.0 582.9,180.2 583.2,179.3 583.5,179.6 583.8,179.4 584.1,179.0 584.4,178.1 584.7,176.7 585.0,180.0 585.3,181.3 585.6,178.7 585.9,180.5 586.2,179.4 586.5,180.2 586.8,178.8 587.1,179.6 587.4,179.7 587.7,176.9 588.0,180.2 588.3,179.7 588.6,176.8 588.9,180.7 589.2,179.9 589.5,180.2 589.8,180.4 590.1,179.4 590.4,178.6 590.7,179.4 591.0,179.4 591.3,182.8 591.6,182.3 591.9,179.4 592.2,179.5 592.5,180.4 592.8,180.7 593.1,179.2 593.4,178.8 593.7,182.5 594.0,181.4 594.3,178.1 594.6,177.8 594.9,179.0 595.2,180.4 595.5,180.8 595.8,179.7 596.1,178.1 596.4,180.4 596.7,180.9 597.0,180.1 597.3,179.5 597.6,180.9 597.9,180.1 598.2,178.7 598.5,180.3 598.8,178.5 599.1,181.4 599.4,180.8 599.7,178.9 600.0,180.4 600.3,181.8 600.6,177.5 600.9,180.0 601.2,182.3 601.5,178.2 601.8,180.0 602.1,178.4 602.4,180.1 602.7,177.2 603.0,178.2 603.3,179.5 603.6,180.4 603.9,180.7 604.2,180.8 604.5,181.7 604.8,181.1 605.1,181.2 605.4,179.0 605.7,180.0 606.0,184.3 606.3,183.1 606.6,181.3 606.9,181.2 607.2,181.5 607.5,179.7 607.8,182.7 608.1,179.8 608.4,180.2 608.7,183.0 609.0,177.6 609.3,180.7 609.6,178.1 609.9,179.4 610.2,180.1 610.5,179.8 610.8,180.5 611.1,179.3 611.4,180.1 611.7,178.7 612.0,179.8 612.3,178.5 612.6,181.1 612.9,178.6 613.2,181.1 613.5,179.7 613.8,179.9 614.1,181.8 614.4,180.4 614.7,177.8 615.0,180.9 615.3,176.5 615.6,180.6 615.9,179.7 616.2,178.5 616.5,180.4 616.8,179.9 617.1,182.8 617.4,179.7 617.7,182.8 618.0,182.0 618.3,179.5 618.6,179.2 618.9,182.0 619.2,180.1 619.5,180.5 619.8,179.9 620.1,178.7 620.4,179.8 620.7,179.0 621.0,178.3 621.3,179.9 621.6,182.6 621.9,182.3 622.2,180.2 622.5,180.4 622.8,180.9 623.1,182.0 623.4,180.7 623.7,179.6 624.0,179.8 624.3,181.7 624.6,183.6 624.9,179.5 625.2,177.6 625.5,181.3 625.8,180.2 626.1,180.4 626.4,181.9 626.7,180.3 627.0,178.5 627.3,177.7 627.6,180.2 627.9,178.8 628.2,180.6 628.5,178.6 628.8,179.8 629.1,178.4 629.4,179.8 629.7,179.7 630.0,181.0 630.3,182.0 630.6,180.0 630.9,179.1 631.2,182.8 631.5,180.7 631.8,181.1 632.1,181.1 632.4,182.1 632.7,181.6 633.0,181.1 633.3,181.3 633.6,179.2 633.9,179.5 634.2,180.1 634.5,180.4 634.8,180.3 635.1,180.7 635.4,180.3 635.7,179.7 636.0,178.2 636.3,181.4 636.6,181.0 636.9,179.1 637.2,180.9 637.5,180.8 637.8,180.4 638.1,177.9 638.4,178.7 638.7,179.5 639.0,182.4 639.3,179.2 639.6,179.8 639.9,178.8 640.2,179.6 640.5,180.7 640.8,177.6 641.1,176.6 641.4,181.1 641.7,180.3 642.0,179.5" fill="none" stroke="#000" stroke-width="1.1" stroke-linejoin="round"/>
<polyline points="370.5,201.4 370.8,201.4 371.1,197.7 371.4,199.9 371.7,201.4 372.0,199.3 372.3,199.6 372.6,201.1 372.9,199.6 373.2,198.5 373.5,199.0 373.8,198.2 374.1,200.4 374.4,197.7 374.7,200.9 375.0,197.7 375.3,199.7 375.6,197.9 375.9,199.2 376.2,200.8 376.5,200.8 376.8,201.0 377.1,199.4 377.4,199.6 377.7,199.7 378.0,200.1 378.3,198.9 378.6,200.6 378.9,199.7 379.2,200.7 379.5,199.9 379.8,200.1 380.1,198.4 380.4,198.8 380.7,197.8 381.0,198.9 381.3,199.1 381.6,200.3 381.9,197.8 382.2,203.1 382.5,199.1 382.8,200.8 383.1,200.5 383.4,196.3 383.7,199.0 384.0,201.0 384.3,196.5 384.6,200.2 384.9,198.3 385.2,198.8 385.5,199.6 385.8,197.2 386.1,199.6 386.4,198.6 386.7,198.5 387.0,200.2 387.3,203.5 387.6,199.8 387.9,200.1 388.2,199.4 388.5,198.6 388.8,199.8 389.1,201.2 389.4,199.7 389.7,200.5 390.0,199.2 390.3,202.4 390.6,197.6 390.9,200.2 391.2,200.1 391.5,199.8 391.8,198.2 392.1,198.2 392.4,199.3 392.7,199.7 393.0,198.2 393.3,198.3 393.6,200.2 393.9,200.8 394.2,198.9 394.5,198.8 394.8,198.7 395.1,202.4 395.4,200.1 395.7,199.5 396.0,200.7 396.3,202.1 396.6,200.8 396.9,197.8 397.2,199.3 397.5,198.9 397.8,199.0 398.1,197.9 398.4,198.9 398.7,198.0 399.0,199.6 399.3,199.2 399.6,197.5 399.9,197.1 400.2,198.5 400.5,199.7 400.8,199.5 401.1,198.8 401.4,195.1 401.7,198.2 402.0,197.9 402.3,198.3 402.6,197.3 402.9,198.1 403.2,197.8 403.5,201.6 403.8,199.2 404.1,198.2 404.4,198.3 404.7,198.1 405.0,198.4 405.3,197.7 405.6,198.1 405.9,199.2 406.2,198.9 406.5,198.3 406.8,199.4 407.1,198.1 407.4,196.7 407.7,195.8 408.0,196.9 408.3,197.6 408.6,198.0 408.9,198.7 409.2,196.8 409.5,196.5 409.8,198.2 410.1,198.6 410.4,196.7 410.7,197.6 411.0,198.7 411.3,197.5 411.6,197.0 411.9,194.7 412.2,198.4 412.5,197.6 412.8,196.9 413.1,196.2 413.4,195.3 413.7,196.5 414.0,196.4 414.3,197.7 414.6,195.1 414.9,198.0 415.2,196.4 415.5,197.6 415.8,195.1 416.1,196.5 416.4,197.4 416.7,196.1 417.0,194.3 417.3,195.5 417.6,196.4 417.9,194.2 418.2,194.1 418.5,195.9 418.8,194.5 419.1,196.3 419.4,194.1 419.7,193.4 420.0,194.5 420.3,196.9 420.6,194.2 420.9,195.1 421.2,195.3 421.5,194.0 421.8,196.2 422.1,195.1 422.4,195.3 422.7,192.9 423.0,192.8 423.3,191.6 423.6,194.4 423.9,194.3 424.2,195.3 424.5,196.1 424.8,194.1 425.1,194.1 425.4,194.8 425.7,196.0 426.0,193.3 426.3,194.8 426.6,193.8 426.9,193.7 427.2,194.9 427.5,193.0 427.8,192.7 428.1,194.6 428.4,193.7 428.7,193.4 429.0,193.5 429.3,194.1 429.6,193.1 429.9,194.3 430.2,193.8 430.5,195.0 430.8,194.7 431.1,194.1 431.4,192.9 431.7,193.1 432.0,192.3 432.3,196.1 432.6,192.5 432.9,193.3 433.2,194.1 433.5,191.0 433.8,191.5 434.1,191.9 434.4,191.1 434.7,190.7 435.0,191.4 435.3,193.3 435.6,192.5 435.9,191.6 436.2,191.4 436.5,189.3 436.8,191.8 437.1,191.4 437.4,189.5 437.7,190.8 438.0,190.1 438.3,189.6 438.6,188.9 438.9,189.1 439.2,188.6 439.5,190.0 439.8,189.8 440.1,189.6 440.4,188.9 440.7,188.5 441.0,191.1 441.3,186.5 441.6,189.9 441.9,188.8 442.2,188.3 442.5,187.5 442.8,187.7 443.1,186.5 443.4,186.1 443.7,187.5 444.0,185.6 444.3,188.3 444.6,188.5 444.9,183.1 445.2,185.2 445.5,187.1 445.8,186.9 446.1,186.7 446.4,186.9 446.7,187.2 447.0,187.2 447.3,188.1 447.6,185.9 447.9,186.8 448.2,183.8 448.5,185.3 448.8,183.9 449.1,186.8 449.4,187.8 449.7,185.5 450.0,183.3 450.3,184.5 450.6,184.5 450.9,184.5 451.2,185.4 451.5,185.1 451.8,180.7 452.1,185.2 452.4,182.9 452.7,182.6 453.0,184.8 453.3,182.6 453.6,181.2 453.9,181.0 454.2,182.5 454.5,183.3 454.8,183.8 455.1,181.6 455.4,181.1 455.7,183.3 456.0,180.7 456.3,182.8 456.6,181.1 456.9,180.9 457.2,180.2 457.5,180.6 457.8,179.5 458.1,179.0 458.4,179.4 458.7,178.6 459.0,179.5 459.3,179.0 459.6,178.4 459.9,178.2 460.2,177.9 460.5,180.0 460.8,177.7 461.1,176.8 461.4,176.9 461.7,177.8 462.0,176.5 462.3,176.3 462.6,175.9 462.9,176.1 463.2,176.0 463.5,175.8 463.8,173.0 464.1,173.3 464.4,171.0 464.7,174.7 465.0,174.7 465.3,174.5 465.6,172.7 465.9,173.4 466.2,171.6 466.5,171.0 466.8,168.9 467.1,169.4 467.4,169.1 467.7,170.5 468.0,171.0 468.3,168.0 468.6,168.6 468.9,168.1 469.2,166.4 469.5,164.9 469.8,165.7 470.1,164.5 470.4,165.6 470.7,165.5 471.0,165.2 471.3,164.9 471.6,165.5 471.9,163.6 472.2,165.7 472.5,162.2 472.8,164.3 473.1,164.5 473.4,162.8 473.7,161.5 474.0,164.3 474.3,162.4 474.6,164.1 474.9,163.9 475.2,162.8 475.5,162.6 475.8,163.8 476.1,162.8 476.4,160.9 476.7,162.3 477.0,162.7 477.3,162.1 477.6,162.0 477.9,161.5 478.2,161.4 478.5,160.2 478.8,159.5 479.1,163.1 479.4,160.5 479.7,161.8 480.0,159.3 480.3,161.8 480.6,160.4 480.9,166.1 481.2,160.2 481.5,160.4 481.8,163.4 482.1,163.9 482.4,159.1 482.7,162.9 483.0,164.0 483.3,161.0 483.6,164.1 483.9,162.5 484.2,161.9 484.5,163.2 484.8,163.2 485.1,162.0 485.4,168.0 485.7,163.9 486.0,163.7 486.3,166.5 486.6,165.2 486.9,167.7 487.2,165.3 487.5,166.5 487.8,166.3 488.1,166.7 488.4,166.3 488.7,166.7 489.0,170.0 489.3,166.3 489.6,166.9 489.9,167.5 490.2,169.4 490.5,169.4 490.8,170.6 491.1,167.0 491.4,170.0 491.7,169.6 492.0,169.7 492.3,170.7 492.6,167.2 492.9,171.4 493.2,171.3 493.5,168.8 493.8,171.3 494.1,174.3 494.4,171.0 494.7,172.8 495.0,171.5 495.3,170.5 495.6,170.4 495.9,171.4 496.2,174.6 496.5,173.8 496.8,171.1 497.1,174.3 497.4,172.3 497.7,171.4 498.0,173.5 498.3,171.1 498.6,170.0 498.9,175.3 499.2,169.6 499.5,174.1 499.8,170.2 500.1,173.1 500.4,172.8 500.7,172.4 501.0,169.2 501.3,173.1 501.6,173.3 501.9,171.7 502.2,173.3 502.5,175.2 502.8,172.1 503.1,173.9 503.4,171.4 503.7,174.1 504.0,174.6 504.3,177.8 504.6,175.0 504.9,174.1 505.2,175.8 505.5,171.5 505.8,175.1 506.1,172.2 506.4,172.0 506.7,174.9 507.0,173.3 507.3,175.1 507.6,170.3 507.9,173.1 508.2,171.6 508.5,172.0 508.8,169.1 509.1,173.7 509.4,172.4 509.7,170.3 510.0,169.6 510.3,170.2 510.6,173.8 510.9,171.2 511.2,170.7 511.5,171.8 511.8,170.9 512.1,171.1 512.4,171.7 512.7,170.9 513.0,171.5 513.3,168.1 513.6,169.6 513.9,168.7 514.2,168.9 514.5,168.3 514.8,167.0 515.1,167.0 515.4,168.3 515.7,165.7 516.0,164.3 516.3,166.3 516.6,166.3 516.9,164.1 517.2,164.2 517.5,162.4 517.8,162.8 518.1,164.0 518.4,163.1 518.7,161.8 519.0,160.7 519.3,158.5 519.6,160.3 519.9,159.8 520.2,159.9 520.5,160.4 520.8,157.9 521.1,158.1 521.4,155.1 521.7,157.4 522.0,156.6 522.3,156.8 522.6,155.8 522.9,155.3 523.2,156.4 523.5,153.9 523.8,155.5 524.1,156.1 524.4,154.2 524.7,153.9 525.0,156.0 525.3,155.9 525.6,156.8 525.9,157.2 526.2,155.9 526.5,157.6 526.8,158.9 527.1,157.6 527.4,158.1 527.7,157.7 528.0,160.6 528.3,162.7 528.6,159.9 528.9,163.2 529.2,164.4 529.5,163.8 529.8,165.0 530.1,165.3 530.4,166.5 530.7,168.5 531.0,170.0 531.3,170.3 531.6,172.1 531.9,172.4 532.2,171.8 532.5,175.7 532.8,176.3 533.1,175.1 533.4,178.7 533.7,178.1 534.0,178.5 534.3,181.3 534.6,177.3 534.9,179.0 535.2,182.3 535.5,182.0 535.8,181.8 536.1,185.1 536.4,184.4 536.7,182.9 537.0,183.9 537.3,185.9 537.6,187.3 537.9,183.5 538.2,186.2 538.5,185.8 538.8,184.6 539.1,186.6 539.4,185.3 539.7,186.6 540.0,189.2 540.3,188.2 540.6,188.7 540.9,188.6 541.2,188.6 541.5,189.4 541.8,187.2 542.1,188.2 542.4,189.7 542.7,188.1 543.0,188.6 543.3,190.5 543.6,191.0 543.9,188.8 544.2,188.7 544.5,190.3 544.8,190.1 545.1,189.2 545.4,190.7 545.7,190.8 546.0,190.3 546.3,193.7 546.6,192.0 546.9,191.5 547.2,191.8 547.5,194.1 547.8,192.1 548.1,190.1 548.4,191.4 548.7,191.2 549.0,190.5 549.3,191.6 549.6,191.6 549.9,191.4 550.2,190.9 550.5,192.5 550.8,189.8 551.1,192.7 551.4,191.8 551.7,192.2 552.0,189.1 552.3,194.0 552.6,190.0 552.9,191.1 553.2,192.9 553.5,191.5 553.8,191.8 554.1,189.6 554.4,191.9 554.7,192.7 555.0,193.3 555.3,192.2 555.6,192.9 555.9,193.2 556.2,191.9 556.5,191.8 556.8,195.2 557.1,191.8 557.4,194.4 557.7,193.0 558.0,194.8 558.3,192.2 558.6,193.7 558.9,193.5 559.2,192.9 559.5,193.6 559.8,192.2 560.1,193.1 560.4,192.8 560.7,194.3 561.0,193.2 561.3,191.6 561.6,192.9 561.9,193.3 562.2,192.3 562.5,195.1 562.8,194.0 563.1,194.5 563.4,192.5 563.7,193.0 564.0,194.8 564.3,191.7 564.6,194.0 564.9,193.7 565.2,193.0 565.5,193.7 565.8,192.3 566.1,194.0 566.4,192.1 566.7,192.1 567.0,195.5 567.3,192.8 567.6,191.1 567.9,195.0 568.2,192.8 568.5,189.3 568.8,193.8 569.1,195.0 569.4,194.3 569.7,196.1 570.0,193.7 570.3,194.7 570.6,192.7 570.9,194.2 571.2,195.9 571.5,194.6 571.8,194.2 572.1,191.5 572.4,193.6 572.7,192.4 573.0,195.1 573.3,193.1 573.6,194.6 573.9,192.8 574.2,196.6 574.5,192.7 574.8,194.3 575.1,197.6 575.4,194.5 575.7,193.1 576.0,195.0 576.3,195.5 576.6,195.4 576.9,191.8 577.2,194.6 577.5,191.6 577.8,196.7 578.1,194.4 578.4,193.8 578.7,195.2 579.0,195.0 579.3,192.9 579.6,196.5 579.9,194.1 580.2,192.2 580.5,196.2 580.8,196.4 581.1,196.1 581.4,195.2 581.7,193.3 582.0,195.7 582.3,196.9 582.6,195.6 582.9,196.6 583.2,193.5 583.5,195.9 583.8,195.8 584.1,192.7 584.4,192.5 584.7,193.7 585.0,194.7 585.3,195.2 585.6,194.3 585.9,194.6 586.2,194.5 586.5,194.8 586.8,195.4 587.1,195.3 587.4,194.6 587.7,195.0 588.0,194.1 588.3,195.7 588.6,194.1 588.9,196.8 589.2,194.7 589.5,195.1 589.8,193.8 590.1,194.3 590.4,195.0 590.7,194.8 591.0,194.0 591.3,193.3 591.6,194.8 591.9,195.0 592.2,195.5 592.5,196.4 592.8,194.4 593.1,192.2 593.4,194.6 593.7,192.4 594.0,193.2 594.3,196.2 594.6,195.6 594.9,194.0 595.2,194.0 595.5,194.7 595.8,192.6 596.1,195.5 596.4,194.4 596.7,197.2 597.0,193.5 597.3,196.2 597.6,194.0 597.9,196.2 598.2,193.6 598.5,195.8 598.8,194.3 599.1,193.8 599.4,194.7 599.7,195.5 600.0,195.4 600.3,196.9 600.6,195.9 600.9,191.5 601.2,194.4 601.5,192.3 601.8,194.4 602.1,195.7 602.4,193.1 602.7,193.3 603.0,195.1 603.3,194.5 603.6,196.9 603.9,195.3 604.2,195.6 604.5,197.1 604.8,194.2 605.1,194.9 605.4,193.6 605.7,195.2 606.0,196.2 606.3,196.6 606.6,194.8 606.9,194.0 607.2,193.9 607.5,193.1 607.8,195.0 608.1,196.6 608.4,191.8 608.7,192.1 609.0,196.7 609.3,192.8 609.6,195.3 609.9,193.2 610.2,195.9 610.5,195.9 610.8,195.1 611.1,196.0 611.4,194.9 611.7,195.6 612.0,197.2 612.3,196.3 612.6,194.0 612.9,193.8 613.2,194.6 613.5,194.6 613.8,195.0 614.1,194.1 614.4,195.7 614.7,194.9 615.0,195.4 615.3,194.9 615.6,195.7 615.9,193.3 616.2,196.9 616.5,195.3 616.8,195.5 617.1,195.7 617.4,196.3 617.7,195.8 618.0,195.2 618.3,194.7 618.6,192.8 618.9,195.2 619.2,194.5 619.5,194.5 619.8,198.0 620.1,192.5 620.4,195.0 620.7,196.5 621.0,196.1 621.3,196.5 621.6,193.3 621.9,193.6 622.2,195.7 622.5,194.5 622.8,197.1 623.1,195.2 623.4,195.2 623.7,195.5 624.0,194.5 624.3,195.1 624.6,194.0 624.9,194.9 625.2,194.3 625.5,195.2 625.8,193.1 626.1,193.0 626.4,195.5 626.7,195.2 627.0,193.7 627.3,194.6 627.6,193.5 627.9,197.6 628.2,192.9 628.5,197.1 628.8,193.8 629.1,195.5 629.4,194.6 629.7,194.4 630.0,196.1 630.3,196.0 630.6,194.5 630.9,193.7 631.2,197.6 631.5,196.7 631.8,195.1 632.1,194.5 632.4,195.3 632.7,195.0 633.0,196.5 633.3,193.7 633.6,194.9 633.9,193.9 634.2,196.6 634.5,197.3 634.8,194.8 635.1,195.6 635.4,196.7 635.7,194.5 636.0,193.7 636.3,196.3 636.6,195.6 636.9,194.6 637.2,196.8 637.5,195.2 637.8,192.6 638.1,195.4 638.4,194.8 638.7,197.4 639.0,194.9 639.3,194.7 639.6,195.5 639.9,195.2 640.2,193.1 640.5,195.1 640.8,194.5 641.1,196.7 641.4,198.0 641.7,193.5 642.0,193.7" fill="none" stroke="#ff0000" stroke-width="1.1" stroke-linejoin="round"/>
<path d="M29.7,1.0H328.2V224.1H29.7Z" fill="none" stroke="#111" stroke-width="1.6"/>
<path d="M370.3,1.8H642.5V221.5H370.3Z" fill="none" stroke="#111" stroke-width="1.6"/>
<path d="M29.50,224.1V229.1 M59.37,224.1V226.7 M89.24,224.1V229.1 M119.11,224.1V226.7 M148.98,224.1V229.1 M178.85,224.1V226.7 M208.72,224.1V229.1 M238.59,224.1V226.7 M268.46,224.1V229.1 M298.33,224.1V226.7 M328.20,224.1V229.1 M370.20,221.5V226.1 M392.89,221.5V224.1 M415.58,221.5V226.1 M438.27,221.5V224.1 M460.96,221.5V226.1 M483.66,221.5V224.1 M506.35,221.5V226.1 M529.04,221.5V224.1 M551.73,221.5V226.1 M574.42,221.5V224.1 M597.11,221.5V226.1 M619.80,221.5V224.1 M642.50,221.5V226.1" stroke="#000" stroke-width="1.4" fill="none"/>
<g font-size="12"><text x="29.5" y="243" text-anchor="middle">0</text><text x="89.2" y="243" text-anchor="middle">20</text><text x="149.0" y="243" text-anchor="middle">40</text><text x="208.7" y="243" text-anchor="middle">60</text><text x="268.5" y="243" text-anchor="middle">80</text><text x="328.2" y="243" text-anchor="middle">100</text></g>
<g font-size="13"><text x="370.2" y="240" text-anchor="middle">750</text><text x="415.6" y="240" text-anchor="middle">1000</text><text x="461.0" y="240" text-anchor="middle">1250</text><text x="506.3" y="240" text-anchor="middle">1500</text><text x="551.7" y="240" text-anchor="middle">1750</text><text x="597.1" y="240" text-anchor="middle">2000</text><text x="642.5" y="240" text-anchor="middle">2250</text></g>
<text x="34.2" y="32.2" font-size="27.7">(</text><text x="44.6" y="32.2" font-size="25">a</text><text x="60.8" y="32.2" font-size="27.7">)</text>
<text x="377.2" y="33.1" font-size="29">(</text><text x="387.1" y="33" font-size="27">b</text><text x="403.8" y="33.1" font-size="29">)</text>
<line x1="237.2" y1="25.9" x2="263.8" y2="25.9" stroke="#9a9a9a" stroke-width="1.5"/>
<line x1="237.2" y1="40.2" x2="263.8" y2="40.2" stroke="#cc3333" stroke-width="1.2"/>
<text x="266.5" y="29.8" font-size="11" textLength="33.2" lengthAdjust="spacingAndGlyphs">PPCM</text>
<text x="266.5" y="43.7" font-size="11" textLength="51.1" lengthAdjust="spacingAndGlyphs">Au-PPCM</text>
<line x1="543.2" y1="27.1" x2="571.8" y2="27.1" stroke="#d81818" stroke-width="1.2"/>
<line x1="543.2" y1="42.7" x2="571.8" y2="42.7" stroke="#000" stroke-width="1.1"/>
<text x="575" y="31.1" font-size="11.5" textLength="54.8" lengthAdjust="spacingAndGlyphs">Au-PPCM</text>
<text x="575" y="46.7" font-size="11.5" textLength="35.5" lengthAdjust="spacingAndGlyphs">PPCM</text>
<text x="129.8" y="86.8" font-size="15.3" textLength="55.3" lengthAdjust="spacingAndGlyphs">Au(111)</text>
<text transform="translate(11.9,158.5) rotate(-90)" font-size="15.3" textLength="101" lengthAdjust="spacingAndGlyphs">Intensity/ (a.u.)</text>
<text transform="translate(355.7,165.3) rotate(-90)" font-size="16.3" textLength="105.5" lengthAdjust="spacingAndGlyphs">Intensity (a.u.)</text>
<text x="169" y="260.9" font-size="15" font-style="italic" textLength="27.2" lengthAdjust="spacingAndGlyphs">2θ/°</text>
<text x="438.5" y="261.2" font-size="16" textLength="135.8" lengthAdjust="spacingAndGlyphs">Raman shift (cm<tspan font-size="10" dy="-6">-1</tspan><tspan dy="6">)</tspan></text>
<text x="571.5" y="165.1" font-size="14.3"><tspan font-style="italic">I</tspan><tspan font-size="10" dy="3.6">D</tspan><tspan dy="-3.6">/</tspan><tspan font-style="italic">I</tspan><tspan font-size="10" dy="3.6">G</tspan><tspan dy="-3.6">=0.93</tspan></text>
<text x="571.5" y="212.6" font-size="14.3"><tspan font-style="italic">I</tspan><tspan font-size="10" dy="3.6">D</tspan><tspan dy="-3.6">/</tspan><tspan font-style="italic">I</tspan><tspan font-size="10" dy="3.6">G</tspan><tspan dy="-3.6">=0.90</tspan></text>
</svg>
</body></html>
